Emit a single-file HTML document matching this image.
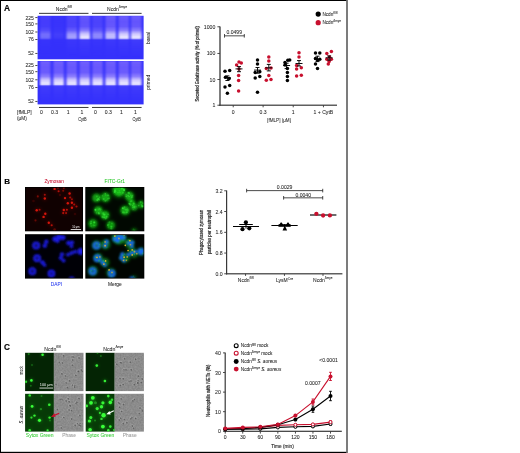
<!DOCTYPE html><html><head><meta charset="utf-8"><style>html,body{margin:0;padding:0;background:#fff;overflow:hidden}svg{display:block;will-change:transform}</style></head><body><svg width="520" height="453" viewBox="0 0 520 453" font-family='"Liberation Sans", sans-serif'>
<defs>
<filter id="blurL" x="-50%" y="-20%" width="200%" height="140%"><feGaussianBlur stdDeviation="0.85 0.55"/></filter>
<filter id="b03" x="-50%" y="-50%" width="200%" height="200%"><feGaussianBlur stdDeviation="0.35"/></filter>
<filter id="b05" x="-50%" y="-50%" width="200%" height="200%"><feGaussianBlur stdDeviation="0.5"/></filter>
<filter id="b07" x="-50%" y="-50%" width="200%" height="200%"><feGaussianBlur stdDeviation="0.7"/></filter>
<filter id="b10" x="-50%" y="-50%" width="200%" height="200%"><feGaussianBlur stdDeviation="1.0"/></filter>
<filter id="b15" x="-50%" y="-50%" width="200%" height="200%"><feGaussianBlur stdDeviation="1.5"/></filter>
<filter id="noise" x="0" y="0" width="100%" height="100%" color-interpolation-filters="sRGB"><feTurbulence type="fractalNoise" baseFrequency="0.6" numOctaves="2" seed="5"/><feColorMatrix type="matrix" values="1.8 0 0 0 -0.35  1.8 0 0 0 -0.35  1.8 0 0 0 -0.35  0 0 0 0 0.07"/><feComposite in2="SourceGraphic" operator="in"/></filter>
</defs>
<rect x="0.00" y="0.00" width="520.00" height="453.00" fill="#fff" />
<rect x="0.00" y="0.00" width="347.00" height="1.00" fill="#000" />
<rect x="0.00" y="0.00" width="1.00" height="453.00" fill="#000" />
<rect x="0.00" y="451.80" width="347.00" height="1.20" fill="#000" />
<rect x="346.10" y="0.00" width="1.80" height="453.00" fill="#6e6e6e" />
<text x="4.1" y="11.0" font-size="8.4" text-anchor="start" fill="#000" font-weight="bold" stroke="#000" stroke-width="0.15">A</text>
<text x="4.2" y="183.7" font-size="8.0" text-anchor="start" fill="#000" font-weight="bold" stroke="#000" stroke-width="0.15">B</text>
<text x="4.0" y="349.6" font-size="8.2" text-anchor="start" fill="#000" font-weight="bold" stroke="#000" stroke-width="0.15">C</text>
<text x="64.0" y="10.5" font-size="5.0" text-anchor="middle" fill="#1c1c1c" stroke="#1c1c1c" stroke-width="0.05">Ncdn<tspan font-size="3.6" dy="-2.3">fl/fl</tspan></text>
<text x="117.0" y="10.5" font-size="5.0" text-anchor="middle" fill="#1c1c1c" stroke="#1c1c1c" stroke-width="0.05">Ncdn<tspan font-size="3.2" dy="-2.3">Δmye</tspan></text>
<rect x="39.00" y="12.85" width="49.50" height="1.00" fill="#383838" />
<rect x="92.00" y="12.85" width="49.60" height="1.00" fill="#383838" />
<rect x="39.00" y="106.95" width="49.50" height="1.00" fill="#383838" />
<rect x="92.00" y="106.95" width="49.60" height="1.00" fill="#383838" />
<rect x="37.60" y="15.80" width="106.00" height="43.50" fill="#3430fb" />
<defs><linearGradient id="g1b" gradientUnits="userSpaceOnUse" x1="0" y1="15.8" x2="0" y2="59.3">
<stop offset="0.2437" stop-color="#f0eaff" stop-opacity="0.0"/>
<stop offset="0.3356" stop-color="#f0eaff" stop-opacity="0.25"/>
<stop offset="0.4046" stop-color="#f2ecff" stop-opacity="0.6"/>
<stop offset="0.4736" stop-color="#f6f2ff" stop-opacity="0.88"/>
<stop offset="0.5149" stop-color="#f6f2ff" stop-opacity="0.9"/>
<stop offset="0.5402" stop-color="#e0d8ff" stop-opacity="0.4"/>
<stop offset="0.5655" stop-color="#a8a0ff" stop-opacity="0.1"/>
<stop offset="0.7494" stop-color="#a8a0ff" stop-opacity="0.04"/>
<stop offset="1.0000" stop-color="#a8a0ff" stop-opacity="0.0"/>
</linearGradient>
<linearGradient id="g1s" gradientUnits="userSpaceOnUse" x1="0" y1="15.8" x2="0" y2="59.3">
<stop offset="0.0000" stop-color="#b898ff" stop-opacity="0.41800000000000004"/>
<stop offset="0.1379" stop-color="#b090ff" stop-opacity="0.38"/>
<stop offset="0.3356" stop-color="#b898ff" stop-opacity="0.399"/>
<stop offset="0.4276" stop-color="#d0c0ff" stop-opacity="0.5319999999999999"/>
<stop offset="0.5195" stop-color="#d8d0ff" stop-opacity="0"/>
<stop offset="1.0000" stop-color="#d8d0ff" stop-opacity="0"/>
</linearGradient></defs>
<g filter="url(#blurL)">
<rect x="40.00" y="16.10" width="10.60" height="43.20" fill="url(#g1s)" opacity="0.35"/>
<rect x="40.00" y="15.80" width="10.60" height="43.50" fill="url(#g1b)" opacity="0.3"/>
<rect x="53.30" y="16.10" width="10.60" height="43.20" fill="url(#g1s)" opacity="0.1"/>
<rect x="53.30" y="15.80" width="10.60" height="43.50" fill="url(#g1b)" opacity="0.05"/>
<rect x="66.50" y="16.10" width="10.60" height="43.20" fill="url(#g1s)" opacity="0.5"/>
<rect x="66.50" y="15.80" width="10.60" height="43.50" fill="url(#g1b)" opacity="0.6"/>
<rect x="79.40" y="16.10" width="10.60" height="43.20" fill="url(#g1s)" opacity="0.9"/>
<rect x="79.40" y="15.80" width="10.60" height="43.50" fill="url(#g1b)" opacity="1.0"/>
<rect x="92.20" y="16.10" width="10.60" height="43.20" fill="url(#g1s)" opacity="0.5"/>
<rect x="92.20" y="15.80" width="10.60" height="43.50" fill="url(#g1b)" opacity="0.45"/>
<rect x="105.40" y="16.10" width="10.60" height="43.20" fill="url(#g1s)" opacity="1.0"/>
<rect x="105.40" y="15.80" width="10.60" height="43.50" fill="url(#g1b)" opacity="0.75"/>
<rect x="118.50" y="16.10" width="10.60" height="43.20" fill="url(#g1s)" opacity="1.0"/>
<rect x="118.50" y="15.80" width="10.60" height="43.50" fill="url(#g1b)" opacity="1.0"/>
<rect x="130.90" y="16.10" width="10.60" height="43.20" fill="url(#g1s)" opacity="1.0"/>
<rect x="130.90" y="15.80" width="10.60" height="43.50" fill="url(#g1b)" opacity="1.0"/>
</g>
<rect x="37.60" y="61.00" width="106.00" height="43.40" fill="#3430fb" />
<defs><linearGradient id="g2b" gradientUnits="userSpaceOnUse" x1="0" y1="61.0" x2="0" y2="104.4">
<stop offset="0.2673" stop-color="#f0eaff" stop-opacity="0.0"/>
<stop offset="0.3594" stop-color="#f0eaff" stop-opacity="0.25"/>
<stop offset="0.4286" stop-color="#f2ecff" stop-opacity="0.6"/>
<stop offset="0.4977" stop-color="#f6f2ff" stop-opacity="0.88"/>
<stop offset="0.5392" stop-color="#f6f2ff" stop-opacity="0.9"/>
<stop offset="0.5645" stop-color="#e0d8ff" stop-opacity="0.4"/>
<stop offset="0.5899" stop-color="#a8a0ff" stop-opacity="0.1"/>
<stop offset="0.7742" stop-color="#a8a0ff" stop-opacity="0.04"/>
<stop offset="1.0000" stop-color="#a8a0ff" stop-opacity="0.0"/>
</linearGradient>
<linearGradient id="g2s" gradientUnits="userSpaceOnUse" x1="0" y1="61.0" x2="0" y2="104.4">
<stop offset="0.0000" stop-color="#b898ff" stop-opacity="0.462"/>
<stop offset="0.1382" stop-color="#b090ff" stop-opacity="0.42"/>
<stop offset="0.3594" stop-color="#b898ff" stop-opacity="0.441"/>
<stop offset="0.4516" stop-color="#d0c0ff" stop-opacity="0.588"/>
<stop offset="0.5438" stop-color="#d8d0ff" stop-opacity="0"/>
<stop offset="1.0000" stop-color="#d8d0ff" stop-opacity="0"/>
</linearGradient></defs>
<g filter="url(#blurL)">
<rect x="40.00" y="61.30" width="10.60" height="43.10" fill="url(#g2s)" opacity="1.0"/>
<rect x="40.00" y="61.00" width="10.60" height="43.40" fill="url(#g2b)" opacity="1.0"/>
<rect x="53.30" y="61.30" width="10.60" height="43.10" fill="url(#g2s)" opacity="1.0"/>
<rect x="53.30" y="61.00" width="10.60" height="43.40" fill="url(#g2b)" opacity="1.0"/>
<rect x="66.50" y="61.30" width="10.60" height="43.10" fill="url(#g2s)" opacity="1.0"/>
<rect x="66.50" y="61.00" width="10.60" height="43.40" fill="url(#g2b)" opacity="1.0"/>
<rect x="79.40" y="61.30" width="10.60" height="43.10" fill="url(#g2s)" opacity="1.0"/>
<rect x="79.40" y="61.00" width="10.60" height="43.40" fill="url(#g2b)" opacity="1.0"/>
<rect x="92.20" y="61.30" width="10.60" height="43.10" fill="url(#g2s)" opacity="1.0"/>
<rect x="92.20" y="61.00" width="10.60" height="43.40" fill="url(#g2b)" opacity="1.0"/>
<rect x="105.40" y="61.30" width="10.60" height="43.10" fill="url(#g2s)" opacity="1.0"/>
<rect x="105.40" y="61.00" width="10.60" height="43.40" fill="url(#g2b)" opacity="1.0"/>
<rect x="118.50" y="61.30" width="10.60" height="43.10" fill="url(#g2s)" opacity="1.0"/>
<rect x="118.50" y="61.00" width="10.60" height="43.40" fill="url(#g2b)" opacity="1.0"/>
<rect x="130.90" y="61.30" width="10.60" height="43.10" fill="url(#g2s)" opacity="1.0"/>
<rect x="130.90" y="61.00" width="10.60" height="43.40" fill="url(#g2b)" opacity="1.0"/>
</g>
<rect x="35.30" y="17.15" width="2.20" height="0.90" fill="#383838" />
<text x="33.8" y="19.5" font-size="5.0" text-anchor="end" fill="#1c1c1c" stroke="#1c1c1c" stroke-width="0.05">225</text>
<rect x="35.30" y="23.45" width="2.20" height="0.90" fill="#383838" />
<text x="33.8" y="25.799999999999997" font-size="5.0" text-anchor="end" fill="#1c1c1c" stroke="#1c1c1c" stroke-width="0.05">150</text>
<rect x="35.30" y="31.55" width="2.20" height="0.90" fill="#383838" />
<text x="33.8" y="33.9" font-size="5.0" text-anchor="end" fill="#1c1c1c" stroke="#1c1c1c" stroke-width="0.05">102</text>
<rect x="35.30" y="39.05" width="2.20" height="0.90" fill="#383838" />
<text x="33.8" y="41.4" font-size="5.0" text-anchor="end" fill="#1c1c1c" stroke="#1c1c1c" stroke-width="0.05">76</text>
<rect x="35.30" y="52.95" width="2.20" height="0.90" fill="#383838" />
<text x="33.8" y="55.3" font-size="5.0" text-anchor="end" fill="#1c1c1c" stroke="#1c1c1c" stroke-width="0.05">52</text>
<rect x="35.30" y="65.05" width="2.20" height="0.90" fill="#383838" />
<text x="33.8" y="67.4" font-size="5.0" text-anchor="end" fill="#1c1c1c" stroke="#1c1c1c" stroke-width="0.05">225</text>
<rect x="35.30" y="71.25" width="2.20" height="0.90" fill="#383838" />
<text x="33.8" y="73.60000000000001" font-size="5.0" text-anchor="end" fill="#1c1c1c" stroke="#1c1c1c" stroke-width="0.05">150</text>
<rect x="35.30" y="79.35" width="2.20" height="0.90" fill="#383838" />
<text x="33.8" y="81.7" font-size="5.0" text-anchor="end" fill="#1c1c1c" stroke="#1c1c1c" stroke-width="0.05">102</text>
<rect x="35.30" y="87.05" width="2.20" height="0.90" fill="#383838" />
<text x="33.8" y="89.4" font-size="5.0" text-anchor="end" fill="#1c1c1c" stroke="#1c1c1c" stroke-width="0.05">76</text>
<rect x="35.30" y="100.95" width="2.20" height="0.90" fill="#383838" />
<text x="33.8" y="103.30000000000001" font-size="5.0" text-anchor="end" fill="#1c1c1c" stroke="#1c1c1c" stroke-width="0.05">52</text>
<text transform="translate(149.9,38.0) rotate(-90)" font-size="5.0" text-anchor="middle" fill="#1c1c1c" stroke="#1c1c1c" stroke-width="0.05" textLength="12" lengthAdjust="spacingAndGlyphs">basal</text>
<text transform="translate(149.9,82.3) rotate(-90)" font-size="5.0" text-anchor="middle" fill="#1c1c1c" stroke="#1c1c1c" stroke-width="0.05" textLength="15" lengthAdjust="spacingAndGlyphs">primed</text>
<text x="17.0" y="113.6" font-size="5.1" text-anchor="start" fill="#1c1c1c" stroke="#1c1c1c" stroke-width="0.05" textLength="14.8" lengthAdjust="spacingAndGlyphs">[fMLP]</text>
<text x="17.0" y="120.4" font-size="5.1" text-anchor="start" fill="#1c1c1c" stroke="#1c1c1c" stroke-width="0.05" textLength="9.8" lengthAdjust="spacingAndGlyphs">(μM)</text>
<text x="41.5" y="113.8" font-size="5.1" text-anchor="middle" fill="#1c1c1c" stroke="#1c1c1c" stroke-width="0.05">0</text>
<text x="54.6" y="113.8" font-size="5.1" text-anchor="middle" fill="#1c1c1c" stroke="#1c1c1c" stroke-width="0.05">0.3</text>
<text x="68.2" y="113.8" font-size="5.1" text-anchor="middle" fill="#1c1c1c" stroke="#1c1c1c" stroke-width="0.05">1</text>
<text x="81.8" y="113.8" font-size="5.1" text-anchor="middle" fill="#1c1c1c" stroke="#1c1c1c" stroke-width="0.05">1</text>
<text x="95.5" y="113.8" font-size="5.1" text-anchor="middle" fill="#1c1c1c" stroke="#1c1c1c" stroke-width="0.05">0</text>
<text x="108.3" y="113.8" font-size="5.1" text-anchor="middle" fill="#1c1c1c" stroke="#1c1c1c" stroke-width="0.05">0.3</text>
<text x="121.4" y="113.8" font-size="5.1" text-anchor="middle" fill="#1c1c1c" stroke="#1c1c1c" stroke-width="0.05">1</text>
<text x="135.4" y="113.8" font-size="5.1" text-anchor="middle" fill="#1c1c1c" stroke="#1c1c1c" stroke-width="0.05">1</text>
<text x="82.5" y="120.9" font-size="5.1" text-anchor="middle" fill="#1c1c1c" stroke="#1c1c1c" stroke-width="0.05" textLength="8.4" lengthAdjust="spacingAndGlyphs">CytB</text>
<text x="136.6" y="120.9" font-size="5.1" text-anchor="middle" fill="#1c1c1c" stroke="#1c1c1c" stroke-width="0.05" textLength="8.4" lengthAdjust="spacingAndGlyphs">CytB</text>
<rect x="219.35" y="26.50" width="1.30" height="79.30" fill="#383838" />
<rect x="219.35" y="104.60" width="117.65" height="1.20" fill="#383838" />
<rect x="217.40" y="26.35" width="2.60" height="0.90" fill="#383838" />
<text x="215.4" y="28.8" font-size="5.2" text-anchor="end" fill="#1c1c1c" stroke="#1c1c1c" stroke-width="0.05">1000</text>
<rect x="217.40" y="52.95" width="2.60" height="0.90" fill="#383838" />
<text x="215.4" y="55.4" font-size="5.2" text-anchor="end" fill="#1c1c1c" stroke="#1c1c1c" stroke-width="0.05">100</text>
<rect x="217.40" y="79.05" width="2.60" height="0.90" fill="#383838" />
<text x="215.4" y="81.5" font-size="5.2" text-anchor="end" fill="#1c1c1c" stroke="#1c1c1c" stroke-width="0.05">10</text>
<rect x="217.40" y="104.75" width="2.60" height="0.90" fill="#383838" />
<text x="215.4" y="107.2" font-size="5.2" text-anchor="end" fill="#1c1c1c" stroke="#1c1c1c" stroke-width="0.05">1</text>
<rect x="232.75" y="105.20" width="0.90" height="2.10" fill="#383838" />
<text x="233.2" y="114.0" font-size="5.1" text-anchor="middle" fill="#1c1c1c" stroke="#1c1c1c" stroke-width="0.05">0</text>
<rect x="262.65" y="105.20" width="0.90" height="2.10" fill="#383838" />
<text x="263.1" y="114.0" font-size="5.1" text-anchor="middle" fill="#1c1c1c" stroke="#1c1c1c" stroke-width="0.05">0.3</text>
<rect x="292.75" y="105.20" width="0.90" height="2.10" fill="#383838" />
<text x="293.2" y="114.0" font-size="5.1" text-anchor="middle" fill="#1c1c1c" stroke="#1c1c1c" stroke-width="0.05">1</text>
<rect x="322.95" y="105.20" width="0.90" height="2.10" fill="#383838" />
<text x="323.4" y="114.0" font-size="5.1" text-anchor="middle" fill="#1c1c1c" stroke="#1c1c1c" stroke-width="0.05">1 + CytB</text>
<text x="279.2" y="121.8" font-size="5.1" text-anchor="middle" fill="#1c1c1c" stroke="#1c1c1c" stroke-width="0.05" textLength="24" lengthAdjust="spacingAndGlyphs">[fMLP] (μM)</text>
<text transform="translate(199.2,63.8) rotate(-90)" font-size="4.9" text-anchor="middle" fill="#1c1c1c" stroke="#1c1c1c" stroke-width="0.18" textLength="75.5" lengthAdjust="spacingAndGlyphs">Secreted Gelatinase activity (% of primed)</text>
<rect x="224.20" y="35.40" width="20.40" height="0.90" fill="#383838" />
<rect x="224.00" y="34.00" width="0.90" height="3.60" fill="#383838" />
<rect x="243.80" y="34.00" width="0.90" height="3.60" fill="#383838" />
<text x="234.2" y="34.2" font-size="5.1" text-anchor="middle" fill="#1c1c1c" stroke="#1c1c1c" stroke-width="0.05">0.0499</text>
<circle cx="225.0" cy="71.2" r="1.75" fill="#000"/>
<circle cx="229.7" cy="70.4" r="1.75" fill="#000"/>
<circle cx="225.5" cy="77.2" r="1.75" fill="#000"/>
<circle cx="229.2" cy="78.5" r="1.75" fill="#000"/>
<circle cx="225.0" cy="87.1" r="1.75" fill="#000"/>
<circle cx="229.7" cy="85.6" r="1.75" fill="#000"/>
<circle cx="227.4" cy="93.3" r="1.75" fill="#000"/>
<path d="M223.90,77.90H230.90M227.40,75.90V80.50M225.40,75.90H229.40M225.40,80.50H229.40" stroke="#000" stroke-width="0.95" fill="none"/>
<circle cx="236.6" cy="65.0" r="1.75" fill="#c8102e"/>
<circle cx="239.0" cy="62.0" r="1.75" fill="#c8102e"/>
<circle cx="241.3" cy="62.9" r="1.75" fill="#c8102e"/>
<circle cx="239.0" cy="69.0" r="1.75" fill="#c8102e"/>
<circle cx="238.6" cy="75.5" r="1.75" fill="#c8102e"/>
<circle cx="238.6" cy="80.6" r="1.75" fill="#c8102e"/>
<circle cx="238.6" cy="91.0" r="1.75" fill="#c8102e"/>
<path d="M235.50,68.90H242.50M239.00,66.60V71.70M237.00,66.60H241.00M237.00,71.70H241.00" stroke="#000" stroke-width="0.95" fill="none"/>
<circle cx="257.5" cy="60.1" r="1.75" fill="#000"/>
<circle cx="257.5" cy="64.0" r="1.75" fill="#000"/>
<circle cx="255.2" cy="72.5" r="1.75" fill="#000"/>
<circle cx="259.8" cy="71.7" r="1.75" fill="#000"/>
<circle cx="255.2" cy="77.9" r="1.75" fill="#000"/>
<circle cx="259.8" cy="76.6" r="1.75" fill="#000"/>
<circle cx="257.5" cy="92.2" r="1.75" fill="#000"/>
<path d="M254.00,70.10H261.00M257.50,67.50V73.20M255.50,67.50H259.50M255.50,73.20H259.50" stroke="#000" stroke-width="0.95" fill="none"/>
<circle cx="268.8" cy="57.0" r="1.75" fill="#c8102e"/>
<circle cx="268.8" cy="60.9" r="1.75" fill="#c8102e"/>
<circle cx="266.3" cy="68.6" r="1.75" fill="#c8102e"/>
<circle cx="271.0" cy="68.1" r="1.75" fill="#c8102e"/>
<circle cx="268.8" cy="75.5" r="1.75" fill="#c8102e"/>
<circle cx="266.3" cy="80.2" r="1.75" fill="#c8102e"/>
<circle cx="271.0" cy="79.4" r="1.75" fill="#c8102e"/>
<path d="M265.30,67.80H272.30M268.80,64.40V70.90M266.80,64.40H270.80M266.80,70.90H270.80" stroke="#000" stroke-width="0.95" fill="none"/>
<circle cx="285.0" cy="62.4" r="1.75" fill="#000"/>
<circle cx="289.7" cy="60.1" r="1.75" fill="#000"/>
<circle cx="287.8" cy="60.3" r="1.75" fill="#000"/>
<circle cx="285.0" cy="65.0" r="1.75" fill="#000"/>
<circle cx="287.4" cy="68.6" r="1.75" fill="#000"/>
<circle cx="287.4" cy="72.5" r="1.75" fill="#000"/>
<circle cx="287.4" cy="76.6" r="1.75" fill="#000"/>
<circle cx="287.4" cy="80.5" r="1.75" fill="#000"/>
<path d="M283.10,65.50H290.10M286.60,63.20V68.60M284.60,63.20H288.60M284.60,68.60H288.60" stroke="#000" stroke-width="0.95" fill="none"/>
<circle cx="299.0" cy="52.8" r="1.75" fill="#c8102e"/>
<circle cx="299.0" cy="57.0" r="1.75" fill="#c8102e"/>
<circle cx="296.6" cy="65.5" r="1.75" fill="#c8102e"/>
<circle cx="301.3" cy="67.8" r="1.75" fill="#c8102e"/>
<circle cx="296.6" cy="69.0" r="1.75" fill="#c8102e"/>
<circle cx="296.6" cy="75.9" r="1.75" fill="#c8102e"/>
<circle cx="301.3" cy="75.2" r="1.75" fill="#c8102e"/>
<path d="M295.50,63.50H302.50M299.00,60.60V66.00M297.00,60.60H301.00M297.00,66.00H301.00" stroke="#000" stroke-width="0.95" fill="none"/>
<circle cx="315.5" cy="53.1" r="1.75" fill="#000"/>
<circle cx="319.8" cy="53.1" r="1.75" fill="#000"/>
<circle cx="315.5" cy="58.5" r="1.75" fill="#000"/>
<circle cx="319.8" cy="59.3" r="1.75" fill="#000"/>
<circle cx="317.5" cy="60.1" r="1.75" fill="#000"/>
<circle cx="315.5" cy="64.0" r="1.75" fill="#000"/>
<circle cx="317.5" cy="68.6" r="1.75" fill="#000"/>
<path d="M314.00,59.30H321.00M317.50,56.20V61.60M315.50,56.20H319.50M315.50,61.60H319.50" stroke="#000" stroke-width="0.95" fill="none"/>
<circle cx="331.4" cy="51.6" r="1.75" fill="#c8102e"/>
<circle cx="326.8" cy="53.6" r="1.75" fill="#c8102e"/>
<circle cx="329.5" cy="57.0" r="1.75" fill="#c8102e"/>
<circle cx="326.8" cy="59.3" r="1.75" fill="#c8102e"/>
<circle cx="331.4" cy="59.3" r="1.75" fill="#c8102e"/>
<circle cx="329.1" cy="61.6" r="1.75" fill="#c8102e"/>
<circle cx="328.3" cy="64.0" r="1.75" fill="#c8102e"/>
<path d="M325.60,57.80H332.60M329.10,55.90V60.10M327.10,55.90H331.10M327.10,60.10H331.10" stroke="#000" stroke-width="0.95" fill="none"/>
<circle cx="318.2" cy="14.1" r="2.6" fill="#000"/>
<circle cx="318.2" cy="22.7" r="2.6" fill="#c8102e"/>
<text x="322.4" y="15.8" font-size="4.7" text-anchor="start" fill="#1c1c1c" stroke="#1c1c1c" stroke-width="0.05">Ncdn<tspan font-size="3.3" dy="-2.3">fl/fl</tspan></text>
<text x="322.4" y="24.4" font-size="4.7" text-anchor="start" fill="#1c1c1c" stroke="#1c1c1c" stroke-width="0.05">Ncdn<tspan font-size="2.9" dy="-2.3">Δmye</tspan></text>
<text x="54.1" y="183.3" font-size="4.8" text-anchor="middle" fill="#c8102e" stroke="#c8102e" stroke-width="0.05" textLength="19.4" lengthAdjust="spacingAndGlyphs">Zymosan</text>
<text x="114.8" y="183.3" font-size="4.8" text-anchor="middle" fill="#28c828" stroke="#28c828" stroke-width="0.05" textLength="20.4" lengthAdjust="spacingAndGlyphs">FITC-Gr1</text>
<text x="56.4" y="286.2" font-size="4.9" text-anchor="middle" fill="#2438f0" stroke="#2438f0" stroke-width="0.05" textLength="11.2" lengthAdjust="spacingAndGlyphs">DAPI</text>
<text x="114.8" y="286.2" font-size="4.9" text-anchor="middle" fill="#1c1c1c" stroke="#1c1c1c" stroke-width="0.05" textLength="13.8" lengthAdjust="spacingAndGlyphs">Merge</text>
<defs>
<clipPath id="cz"><rect x="25.8" y="187.8" width="56.400000000000006" height="42.69999999999999"/></clipPath>
<clipPath id="cf"><rect x="86.1" y="187.8" width="57.400000000000006" height="42.69999999999999"/></clipPath>
<clipPath id="cd"><rect x="25.8" y="235.0" width="56.400000000000006" height="42.80000000000001"/></clipPath>
<clipPath id="cm"><rect x="86.1" y="235.0" width="57.400000000000006" height="42.80000000000001"/></clipPath>
</defs>
<rect x="25.00" y="187.00" width="58.00" height="44.30" fill="#000" />
<rect x="25.80" y="187.80" width="56.40" height="42.70" fill="#100101" />
<g clip-path="url(#cz)">
<g filter="url(#b15)">
<circle cx="54.6" cy="188.9" r="2.0" fill="#c01008" fill-opacity="0.28"/>
<circle cx="58.6" cy="191.2" r="2.0" fill="#c01008" fill-opacity="0.22"/>
<circle cx="58" cy="187.7" r="2.0" fill="#c01008" fill-opacity="0.14"/>
<circle cx="63.8" cy="187.7" r="2.0" fill="#c01008" fill-opacity="0.20"/>
<circle cx="63.2" cy="190.8" r="2.0" fill="#c01008" fill-opacity="0.14"/>
<circle cx="69.6" cy="193.5" r="2.0" fill="#c01008" fill-opacity="0.28"/>
<circle cx="37.8" cy="196.4" r="2.0" fill="#c01008" fill-opacity="0.14"/>
<circle cx="44.8" cy="194.7" r="2.0" fill="#c01008" fill-opacity="0.20"/>
<circle cx="44.8" cy="198.5" r="2.0" fill="#c01008" fill-opacity="0.28"/>
<circle cx="65" cy="198.1" r="2.0" fill="#c01008" fill-opacity="0.28"/>
<circle cx="70.2" cy="197.5" r="2.0" fill="#c01008" fill-opacity="0.20"/>
<circle cx="71.9" cy="199.3" r="2.0" fill="#c01008" fill-opacity="0.17"/>
<circle cx="67.8" cy="203.3" r="2.0" fill="#c01008" fill-opacity="0.28"/>
<circle cx="71.9" cy="202.7" r="2.0" fill="#c01008" fill-opacity="0.28"/>
<circle cx="74.2" cy="204.5" r="2.0" fill="#c01008" fill-opacity="0.20"/>
<circle cx="76.5" cy="206.5" r="2.0" fill="#c01008" fill-opacity="0.20"/>
<circle cx="71.9" cy="207.7" r="2.0" fill="#c01008" fill-opacity="0.28"/>
<circle cx="36.7" cy="210.2" r="2.0" fill="#c01008" fill-opacity="0.28"/>
<circle cx="39.6" cy="209.7" r="2.0" fill="#c01008" fill-opacity="0.20"/>
<circle cx="63.8" cy="210" r="2.0" fill="#c01008" fill-opacity="0.28"/>
<circle cx="66.9" cy="209.7" r="2.0" fill="#c01008" fill-opacity="0.22"/>
<circle cx="63.2" cy="213.1" r="2.0" fill="#c01008" fill-opacity="0.22"/>
<circle cx="66.1" cy="213.1" r="2.0" fill="#c01008" fill-opacity="0.20"/>
<circle cx="45.3" cy="213.7" r="2.0" fill="#c01008" fill-opacity="0.28"/>
<circle cx="43.6" cy="216.9" r="2.0" fill="#c01008" fill-opacity="0.28"/>
<circle cx="35.5" cy="220.4" r="2.0" fill="#c01008" fill-opacity="0.11"/>
<circle cx="48.8" cy="222.7" r="2.0" fill="#c01008" fill-opacity="0.28"/>
<circle cx="51.7" cy="225.2" r="2.0" fill="#c01008" fill-opacity="0.22"/>
<circle cx="54.6" cy="229.5" r="2.0" fill="#c01008" fill-opacity="0.10"/>
<circle cx="33.5" cy="201" r="2.0" fill="#c01008" fill-opacity="0.04"/>
<circle cx="60" cy="195" r="2.0" fill="#c01008" fill-opacity="0.06"/>
<circle cx="75" cy="214" r="2.0" fill="#c01008" fill-opacity="0.04"/>
</g><g>
<circle cx="54.6" cy="188.9" r="1.2" fill="#e8180c" fill-opacity="0.90"/>
<circle cx="58.6" cy="191.2" r="1.05" fill="#e8180c" fill-opacity="0.72"/>
<circle cx="58" cy="187.7" r="1.05" fill="#e8180c" fill-opacity="0.45"/>
<circle cx="63.8" cy="187.7" r="1.05" fill="#e8180c" fill-opacity="0.63"/>
<circle cx="63.2" cy="190.8" r="1.05" fill="#e8180c" fill-opacity="0.45"/>
<circle cx="69.6" cy="193.5" r="1.2" fill="#e8180c" fill-opacity="0.90"/>
<circle cx="37.8" cy="196.4" r="1.05" fill="#e8180c" fill-opacity="0.45"/>
<circle cx="44.8" cy="194.7" r="1.05" fill="#e8180c" fill-opacity="0.63"/>
<circle cx="44.8" cy="198.5" r="1.2" fill="#e8180c" fill-opacity="0.90"/>
<circle cx="65" cy="198.1" r="1.2" fill="#e8180c" fill-opacity="0.90"/>
<circle cx="70.2" cy="197.5" r="1.05" fill="#e8180c" fill-opacity="0.63"/>
<circle cx="71.9" cy="199.3" r="1.05" fill="#e8180c" fill-opacity="0.54"/>
<circle cx="67.8" cy="203.3" r="1.2" fill="#e8180c" fill-opacity="0.90"/>
<circle cx="71.9" cy="202.7" r="1.2" fill="#e8180c" fill-opacity="0.90"/>
<circle cx="74.2" cy="204.5" r="1.05" fill="#e8180c" fill-opacity="0.63"/>
<circle cx="76.5" cy="206.5" r="1.05" fill="#e8180c" fill-opacity="0.63"/>
<circle cx="71.9" cy="207.7" r="1.2" fill="#e8180c" fill-opacity="0.90"/>
<circle cx="36.7" cy="210.2" r="1.2" fill="#e8180c" fill-opacity="0.90"/>
<circle cx="39.6" cy="209.7" r="1.05" fill="#e8180c" fill-opacity="0.63"/>
<circle cx="63.8" cy="210" r="1.2" fill="#e8180c" fill-opacity="0.90"/>
<circle cx="66.9" cy="209.7" r="1.05" fill="#e8180c" fill-opacity="0.72"/>
<circle cx="63.2" cy="213.1" r="1.05" fill="#e8180c" fill-opacity="0.72"/>
<circle cx="66.1" cy="213.1" r="1.05" fill="#e8180c" fill-opacity="0.63"/>
<circle cx="45.3" cy="213.7" r="1.2" fill="#e8180c" fill-opacity="0.90"/>
<circle cx="43.6" cy="216.9" r="1.2" fill="#e8180c" fill-opacity="0.90"/>
<circle cx="35.5" cy="220.4" r="1.05" fill="#e8180c" fill-opacity="0.36"/>
<circle cx="48.8" cy="222.7" r="1.2" fill="#e8180c" fill-opacity="0.90"/>
<circle cx="51.7" cy="225.2" r="1.05" fill="#e8180c" fill-opacity="0.72"/>
<circle cx="54.6" cy="229.5" r="1.3" fill="#e8180c" fill-opacity="0.32"/>
<circle cx="33.5" cy="201" r="1.3" fill="#e8180c" fill-opacity="0.14"/>
<circle cx="60" cy="195" r="1.3" fill="#e8180c" fill-opacity="0.18"/>
<circle cx="75" cy="214" r="1.3" fill="#e8180c" fill-opacity="0.14"/>
</g>
<text x="75.9" y="227.5" font-size="2.6" text-anchor="middle" fill="#fff">10 μm</text>
<rect x="70.70" y="229.10" width="10.40" height="0.80" fill="#fff" />
</g>
<rect x="85.30" y="187.00" width="59.00" height="44.30" fill="#000" />
<rect x="86.10" y="187.80" width="57.40" height="42.70" fill="#010801" />
<g clip-path="url(#cf)">
<g filter="url(#b15)">
<circle cx="119.0" cy="190.3" r="8.64" fill="#0c800c" fill-opacity="0.40"/>
<circle cx="96.5" cy="197.9" r="5.80" fill="#0c800c" fill-opacity="0.28"/>
<circle cx="105.5" cy="197.3" r="6.35" fill="#0c800c" fill-opacity="0.30"/>
<circle cx="129.3" cy="196.1" r="6.21" fill="#0c800c" fill-opacity="0.30"/>
<circle cx="131.7" cy="202.7" r="4.73" fill="#0c800c" fill-opacity="0.26"/>
<circle cx="141.5" cy="204.5" r="5.27" fill="#0c800c" fill-opacity="0.24"/>
<circle cx="134.1" cy="206.9" r="4.86" fill="#0c800c" fill-opacity="0.28"/>
<circle cx="125.1" cy="210.4" r="6.35" fill="#0c800c" fill-opacity="0.30"/>
<circle cx="98.3" cy="210.4" r="5.67" fill="#0c800c" fill-opacity="0.30"/>
<circle cx="104.9" cy="215.2" r="5.80" fill="#0c800c" fill-opacity="0.32"/>
<circle cx="92.9" cy="223.6" r="6.35" fill="#0c800c" fill-opacity="0.26"/>
<circle cx="110.8" cy="225.3" r="5.80" fill="#0c800c" fill-opacity="0.26"/>
<circle cx="134.1" cy="231" r="4.05" fill="#0c800c" fill-opacity="0.14"/>
</g>
<g filter="url(#b10)">
<circle cx="119.0" cy="190.3" r="6.08" fill="#16b816" fill-opacity="1.15"/>
<circle cx="96.5" cy="197.9" r="4.08" fill="#16b816" fill-opacity="0.80"/>
<circle cx="105.5" cy="197.3" r="4.46" fill="#16b816" fill-opacity="0.85"/>
<circle cx="129.3" cy="196.1" r="4.37" fill="#16b816" fill-opacity="0.85"/>
<circle cx="131.7" cy="202.7" r="3.32" fill="#16b816" fill-opacity="0.75"/>
<circle cx="141.5" cy="204.5" r="3.70" fill="#16b816" fill-opacity="0.70"/>
<circle cx="134.1" cy="206.9" r="3.42" fill="#16b816" fill-opacity="0.80"/>
<circle cx="125.1" cy="210.4" r="4.46" fill="#16b816" fill-opacity="0.85"/>
<circle cx="98.3" cy="210.4" r="3.99" fill="#16b816" fill-opacity="0.85"/>
<circle cx="104.9" cy="215.2" r="4.08" fill="#16b816" fill-opacity="0.90"/>
<circle cx="92.9" cy="223.6" r="4.46" fill="#16b816" fill-opacity="0.75"/>
<circle cx="110.8" cy="225.3" r="4.08" fill="#16b816" fill-opacity="0.75"/>
<circle cx="134.1" cy="231" r="2.85" fill="#16b816" fill-opacity="0.40"/>
</g><g>
<circle cx="115.3" cy="191.4" r="1.07" fill="#3cf03c" fill-opacity="0.51"/>
<circle cx="115.1" cy="190.1" r="0.77" fill="#3cf03c" fill-opacity="0.52"/>
<circle cx="115.9" cy="187.0" r="0.74" fill="#3cf03c" fill-opacity="0.45"/>
<circle cx="122.9" cy="192.8" r="0.98" fill="#3cf03c" fill-opacity="0.36"/>
<circle cx="124.0" cy="189.7" r="0.96" fill="#3cf03c" fill-opacity="0.56"/>
<circle cx="119.3" cy="190.8" r="0.91" fill="#3cf03c" fill-opacity="0.37"/>
<circle cx="119.9" cy="192.6" r="0.71" fill="#3cf03c" fill-opacity="0.51"/>
<circle cx="114.6" cy="192.0" r="0.91" fill="#3cf03c" fill-opacity="0.57"/>
<circle cx="114.8" cy="190.3" r="0.88" fill="#3cf03c" fill-opacity="0.44"/>
<circle cx="124.1" cy="190.2" r="1.04" fill="#3cf03c" fill-opacity="0.59"/>
<circle cx="118.0" cy="192.6" r="0.82" fill="#3cf03c" fill-opacity="0.37"/>
<circle cx="119.3" cy="187.1" r="1.04" fill="#3cf03c" fill-opacity="0.48"/>
<circle cx="123.5" cy="189.1" r="0.70" fill="#3cf03c" fill-opacity="0.42"/>
<circle cx="122.0" cy="188.4" r="1.09" fill="#3cf03c" fill-opacity="0.48"/>
<circle cx="98.9" cy="199.1" r="1.01" fill="#3cf03c" fill-opacity="0.30"/>
<circle cx="98.2" cy="198.9" r="1.09" fill="#3cf03c" fill-opacity="0.42"/>
<circle cx="97.8" cy="199.1" r="0.74" fill="#3cf03c" fill-opacity="0.25"/>
<circle cx="96.9" cy="196.5" r="0.92" fill="#3cf03c" fill-opacity="0.35"/>
<circle cx="97.6" cy="200.6" r="0.75" fill="#3cf03c" fill-opacity="0.39"/>
<circle cx="98.2" cy="199.4" r="0.79" fill="#3cf03c" fill-opacity="0.30"/>
<circle cx="99.5" cy="197.3" r="0.82" fill="#3cf03c" fill-opacity="0.45"/>
<circle cx="97.0" cy="200.0" r="1.04" fill="#3cf03c" fill-opacity="0.39"/>
<circle cx="99.3" cy="199.9" r="0.79" fill="#3cf03c" fill-opacity="0.30"/>
<circle cx="105.8" cy="195.2" r="0.82" fill="#3cf03c" fill-opacity="0.27"/>
<circle cx="107.9" cy="198.8" r="0.80" fill="#3cf03c" fill-opacity="0.41"/>
<circle cx="103.7" cy="199.1" r="1.08" fill="#3cf03c" fill-opacity="0.38"/>
<circle cx="102.4" cy="195.7" r="0.77" fill="#3cf03c" fill-opacity="0.29"/>
<circle cx="108.4" cy="195.4" r="0.80" fill="#3cf03c" fill-opacity="0.30"/>
<circle cx="105.3" cy="193.7" r="0.78" fill="#3cf03c" fill-opacity="0.50"/>
<circle cx="107.7" cy="195.3" r="0.87" fill="#3cf03c" fill-opacity="0.28"/>
<circle cx="109.1" cy="198.2" r="0.80" fill="#3cf03c" fill-opacity="0.43"/>
<circle cx="105.4" cy="200.7" r="0.94" fill="#3cf03c" fill-opacity="0.33"/>
<circle cx="106.9" cy="200.1" r="0.73" fill="#3cf03c" fill-opacity="0.31"/>
<circle cx="126.1" cy="194.9" r="0.95" fill="#3cf03c" fill-opacity="0.33"/>
<circle cx="130.7" cy="195.3" r="0.71" fill="#3cf03c" fill-opacity="0.32"/>
<circle cx="128.4" cy="196.4" r="0.77" fill="#3cf03c" fill-opacity="0.35"/>
<circle cx="128.1" cy="195.5" r="0.84" fill="#3cf03c" fill-opacity="0.48"/>
<circle cx="132.3" cy="195.7" r="0.98" fill="#3cf03c" fill-opacity="0.40"/>
<circle cx="129.7" cy="196.6" r="0.71" fill="#3cf03c" fill-opacity="0.49"/>
<circle cx="128.2" cy="192.7" r="0.71" fill="#3cf03c" fill-opacity="0.42"/>
<circle cx="126.2" cy="196.5" r="0.83" fill="#3cf03c" fill-opacity="0.51"/>
<circle cx="131.7" cy="197.3" r="0.99" fill="#3cf03c" fill-opacity="0.48"/>
<circle cx="129.0" cy="193.0" r="1.02" fill="#3cf03c" fill-opacity="0.49"/>
<circle cx="130.3" cy="204.6" r="1.06" fill="#3cf03c" fill-opacity="0.42"/>
<circle cx="129.5" cy="203.9" r="1.05" fill="#3cf03c" fill-opacity="0.35"/>
<circle cx="130.5" cy="201.5" r="0.93" fill="#3cf03c" fill-opacity="0.36"/>
<circle cx="133.7" cy="203.8" r="1.10" fill="#3cf03c" fill-opacity="0.42"/>
<circle cx="131.5" cy="201.0" r="0.99" fill="#3cf03c" fill-opacity="0.36"/>
<circle cx="129.3" cy="203.6" r="0.73" fill="#3cf03c" fill-opacity="0.39"/>
<circle cx="133.8" cy="203.1" r="0.89" fill="#3cf03c" fill-opacity="0.28"/>
<circle cx="140.8" cy="202.4" r="0.95" fill="#3cf03c" fill-opacity="0.40"/>
<circle cx="141.5" cy="204.8" r="0.82" fill="#3cf03c" fill-opacity="0.35"/>
<circle cx="141.9" cy="205.7" r="1.06" fill="#3cf03c" fill-opacity="0.35"/>
<circle cx="138.7" cy="205.6" r="0.83" fill="#3cf03c" fill-opacity="0.35"/>
<circle cx="142.2" cy="206.4" r="1.02" fill="#3cf03c" fill-opacity="0.40"/>
<circle cx="142.9" cy="203.2" r="0.93" fill="#3cf03c" fill-opacity="0.28"/>
<circle cx="142.9" cy="206.2" r="1.03" fill="#3cf03c" fill-opacity="0.39"/>
<circle cx="140.8" cy="201.5" r="0.81" fill="#3cf03c" fill-opacity="0.25"/>
<circle cx="132.7" cy="207.4" r="0.79" fill="#3cf03c" fill-opacity="0.34"/>
<circle cx="132.7" cy="205.5" r="0.83" fill="#3cf03c" fill-opacity="0.44"/>
<circle cx="136.0" cy="206.7" r="0.73" fill="#3cf03c" fill-opacity="0.25"/>
<circle cx="134.5" cy="206.5" r="0.98" fill="#3cf03c" fill-opacity="0.38"/>
<circle cx="133.2" cy="209.3" r="0.71" fill="#3cf03c" fill-opacity="0.27"/>
<circle cx="133.7" cy="207.0" r="1.03" fill="#3cf03c" fill-opacity="0.30"/>
<circle cx="134.5" cy="207.4" r="0.95" fill="#3cf03c" fill-opacity="0.35"/>
<circle cx="123.0" cy="208.2" r="1.02" fill="#3cf03c" fill-opacity="0.50"/>
<circle cx="124.4" cy="208.9" r="0.89" fill="#3cf03c" fill-opacity="0.30"/>
<circle cx="127.7" cy="210.6" r="0.99" fill="#3cf03c" fill-opacity="0.30"/>
<circle cx="124.8" cy="212.6" r="0.98" fill="#3cf03c" fill-opacity="0.39"/>
<circle cx="122.6" cy="208.2" r="0.86" fill="#3cf03c" fill-opacity="0.46"/>
<circle cx="126.0" cy="209.8" r="1.07" fill="#3cf03c" fill-opacity="0.44"/>
<circle cx="126.8" cy="212.2" r="0.95" fill="#3cf03c" fill-opacity="0.49"/>
<circle cx="123.1" cy="212.4" r="1.05" fill="#3cf03c" fill-opacity="0.46"/>
<circle cx="127.5" cy="209.5" r="0.96" fill="#3cf03c" fill-opacity="0.31"/>
<circle cx="124.5" cy="207.1" r="0.96" fill="#3cf03c" fill-opacity="0.44"/>
<circle cx="99.0" cy="213.5" r="1.09" fill="#3cf03c" fill-opacity="0.50"/>
<circle cx="95.4" cy="209.7" r="0.83" fill="#3cf03c" fill-opacity="0.49"/>
<circle cx="99.5" cy="208.8" r="0.73" fill="#3cf03c" fill-opacity="0.37"/>
<circle cx="95.5" cy="209.5" r="0.89" fill="#3cf03c" fill-opacity="0.26"/>
<circle cx="98.6" cy="209.6" r="1.02" fill="#3cf03c" fill-opacity="0.30"/>
<circle cx="96.8" cy="213.0" r="0.76" fill="#3cf03c" fill-opacity="0.29"/>
<circle cx="95.5" cy="210.1" r="1.04" fill="#3cf03c" fill-opacity="0.43"/>
<circle cx="100.5" cy="209.6" r="1.08" fill="#3cf03c" fill-opacity="0.28"/>
<circle cx="98.7" cy="212.8" r="0.82" fill="#3cf03c" fill-opacity="0.44"/>
<circle cx="103.3" cy="213.3" r="1.04" fill="#3cf03c" fill-opacity="0.42"/>
<circle cx="104.1" cy="217.2" r="1.04" fill="#3cf03c" fill-opacity="0.51"/>
<circle cx="105.7" cy="218.3" r="1.09" fill="#3cf03c" fill-opacity="0.41"/>
<circle cx="103.5" cy="214.5" r="0.91" fill="#3cf03c" fill-opacity="0.41"/>
<circle cx="104.4" cy="214.8" r="1.09" fill="#3cf03c" fill-opacity="0.41"/>
<circle cx="102.4" cy="217.0" r="0.93" fill="#3cf03c" fill-opacity="0.40"/>
<circle cx="104.6" cy="214.4" r="0.92" fill="#3cf03c" fill-opacity="0.38"/>
<circle cx="108.1" cy="214.3" r="0.81" fill="#3cf03c" fill-opacity="0.40"/>
<circle cx="106.5" cy="216.8" r="1.03" fill="#3cf03c" fill-opacity="0.51"/>
<circle cx="90.8" cy="223.9" r="0.78" fill="#3cf03c" fill-opacity="0.36"/>
<circle cx="94.1" cy="223.0" r="1.01" fill="#3cf03c" fill-opacity="0.23"/>
<circle cx="93.5" cy="225.3" r="0.97" fill="#3cf03c" fill-opacity="0.30"/>
<circle cx="91.1" cy="225.9" r="0.74" fill="#3cf03c" fill-opacity="0.39"/>
<circle cx="94.8" cy="225.5" r="0.80" fill="#3cf03c" fill-opacity="0.27"/>
<circle cx="90.5" cy="223.1" r="0.85" fill="#3cf03c" fill-opacity="0.32"/>
<circle cx="91.4" cy="223.3" r="0.78" fill="#3cf03c" fill-opacity="0.37"/>
<circle cx="91.1" cy="221.5" r="1.04" fill="#3cf03c" fill-opacity="0.36"/>
<circle cx="94.0" cy="222.2" r="1.00" fill="#3cf03c" fill-opacity="0.41"/>
<circle cx="94.6" cy="222.4" r="0.83" fill="#3cf03c" fill-opacity="0.43"/>
<circle cx="111.5" cy="228.7" r="1.06" fill="#3cf03c" fill-opacity="0.26"/>
<circle cx="111.0" cy="228.2" r="0.80" fill="#3cf03c" fill-opacity="0.25"/>
<circle cx="111.9" cy="223.4" r="1.02" fill="#3cf03c" fill-opacity="0.25"/>
<circle cx="108.5" cy="226.9" r="0.71" fill="#3cf03c" fill-opacity="0.27"/>
<circle cx="109.4" cy="222.3" r="1.09" fill="#3cf03c" fill-opacity="0.25"/>
<circle cx="107.8" cy="225.2" r="0.90" fill="#3cf03c" fill-opacity="0.38"/>
<circle cx="111.1" cy="226.1" r="0.74" fill="#3cf03c" fill-opacity="0.23"/>
<circle cx="108.5" cy="224.5" r="0.93" fill="#3cf03c" fill-opacity="0.26"/>
<circle cx="111.4" cy="226.7" r="1.04" fill="#3cf03c" fill-opacity="0.45"/>
<circle cx="134.8" cy="230.7" r="0.72" fill="#3cf03c" fill-opacity="0.23"/>
<circle cx="132.1" cy="231.5" r="0.83" fill="#3cf03c" fill-opacity="0.18"/>
<circle cx="132.5" cy="230.8" r="0.94" fill="#3cf03c" fill-opacity="0.12"/>
<circle cx="133.4" cy="228.9" r="0.77" fill="#3cf03c" fill-opacity="0.17"/>
<circle cx="134.0" cy="229.5" r="0.78" fill="#3cf03c" fill-opacity="0.14"/>
<circle cx="133.8" cy="231.0" r="1.06" fill="#3cf03c" fill-opacity="0.22"/>
</g></g>
<rect x="25.00" y="234.20" width="58.00" height="44.40" fill="#000" />
<rect x="25.80" y="235.00" width="56.40" height="42.80" fill="#000006" />
<g clip-path="url(#cd)"><g filter="url(#b10)">
<circle cx="36.20" cy="245.50" r="2.60" fill="none" stroke="#1a1ae0" stroke-opacity="1.0" stroke-width="2.8"/>
<circle cx="37.10" cy="258.20" r="2.50" fill="none" stroke="#1a1ae0" stroke-opacity="1.0" stroke-width="2.8"/>
<circle cx="32.30" cy="271.30" r="2.60" fill="none" stroke="#1a1ae0" stroke-opacity="1.0" stroke-width="2.8"/>
<circle cx="51.40" cy="273.50" r="2.50" fill="none" stroke="#1a1ae0" stroke-opacity="1.0" stroke-width="2.8"/>
<circle cx="46.30" cy="241.80" r="2.18" fill="#1a1ae0" fill-opacity="1.0"/>
<circle cx="44.80" cy="245.80" r="2.18" fill="#1a1ae0" fill-opacity="1.0"/>
<circle cx="55.00" cy="239.00" r="2.76" fill="#1a1ae0" fill-opacity="1.0"/>
<circle cx="59.00" cy="237.20" r="2.99" fill="#1a1ae0" fill-opacity="1.0"/>
<circle cx="63.00" cy="237.60" r="2.53" fill="#1a1ae0" fill-opacity="1.0"/>
<circle cx="57.50" cy="241.00" r="2.07" fill="#1a1ae0" fill-opacity="1.0"/>
<circle cx="68.50" cy="243.00" r="2.30" fill="#1a1ae0" fill-opacity="1.0"/>
<circle cx="72.00" cy="242.50" r="2.07" fill="#1a1ae0" fill-opacity="1.0"/>
<circle cx="71.50" cy="246.20" r="1.84" fill="#1a1ae0" fill-opacity="1.0"/>
<circle cx="80.80" cy="251.50" r="3.45" fill="#1a1ae0" fill-opacity="1.0"/>
<circle cx="68.00" cy="254.60" r="1.95" fill="#1a1ae0" fill-opacity="1.0"/>
<circle cx="71.50" cy="253.00" r="2.07" fill="#1a1ae0" fill-opacity="1.0"/>
<circle cx="75.00" cy="251.80" r="1.95" fill="#1a1ae0" fill-opacity="1.0"/>
<circle cx="62.00" cy="254.40" r="2.07" fill="#1a1ae0" fill-opacity="1.0"/>
<circle cx="60.80" cy="258.00" r="2.07" fill="#1a1ae0" fill-opacity="1.0"/>
<circle cx="63.60" cy="260.60" r="1.95" fill="#1a1ae0" fill-opacity="1.0"/>
<circle cx="42.50" cy="262.50" r="2.30" fill="#1a1ae0" fill-opacity="1.0"/>
<circle cx="44.60" cy="265.00" r="1.84" fill="#1a1ae0" fill-opacity="1.0"/>
<circle cx="71.70" cy="279.50" r="2.99" fill="#1a1ae0" fill-opacity="1.0"/>
</g></g>
<rect x="85.30" y="234.20" width="59.00" height="44.40" fill="#000" />
<rect x="86.10" y="235.00" width="57.40" height="42.80" fill="#010501" />
<g clip-path="url(#cm)">
<g filter="url(#b15)">
<circle cx="119.0" cy="237.5" r="6.72" fill="#109a1c" fill-opacity="0.92"/>
<circle cx="96.5" cy="245.1" r="4.51" fill="#109a1c" fill-opacity="0.64"/>
<circle cx="105.5" cy="244.5" r="4.94" fill="#109a1c" fill-opacity="0.68"/>
<circle cx="129.3" cy="243.29999999999998" r="4.83" fill="#109a1c" fill-opacity="0.68"/>
<circle cx="131.7" cy="249.89999999999998" r="3.68" fill="#109a1c" fill-opacity="0.60"/>
<circle cx="141.5" cy="251.7" r="4.09" fill="#109a1c" fill-opacity="0.56"/>
<circle cx="134.1" cy="254.1" r="3.78" fill="#109a1c" fill-opacity="0.64"/>
<circle cx="125.1" cy="257.6" r="4.94" fill="#109a1c" fill-opacity="0.68"/>
<circle cx="98.3" cy="257.6" r="4.41" fill="#109a1c" fill-opacity="0.68"/>
<circle cx="104.9" cy="262.4" r="4.51" fill="#109a1c" fill-opacity="0.72"/>
<circle cx="92.9" cy="270.79999999999995" r="4.94" fill="#109a1c" fill-opacity="0.60"/>
<circle cx="110.8" cy="272.5" r="4.51" fill="#109a1c" fill-opacity="0.60"/>
<circle cx="134.1" cy="278.2" r="3.15" fill="#109a1c" fill-opacity="0.32"/>
</g><g filter="url(#b10)">
<circle cx="96.50" cy="245.50" r="2.60" fill="none" stroke="#1a6aff" stroke-opacity="0.92" stroke-width="2.8"/>
<circle cx="97.40" cy="258.20" r="2.50" fill="none" stroke="#1a6aff" stroke-opacity="0.92" stroke-width="2.8"/>
<circle cx="92.60" cy="271.30" r="2.60" fill="none" stroke="#1a6aff" stroke-opacity="0.92" stroke-width="2.8"/>
<circle cx="111.70" cy="273.50" r="2.50" fill="none" stroke="#1a6aff" stroke-opacity="0.92" stroke-width="2.8"/>
<circle cx="106.60" cy="241.80" r="2.18" fill="#1a6aff" fill-opacity="0.92"/>
<circle cx="105.10" cy="245.80" r="2.18" fill="#1a6aff" fill-opacity="0.92"/>
<circle cx="115.30" cy="239.00" r="2.76" fill="#1a6aff" fill-opacity="0.92"/>
<circle cx="119.30" cy="237.20" r="2.99" fill="#1a6aff" fill-opacity="0.92"/>
<circle cx="123.30" cy="237.60" r="2.53" fill="#1a6aff" fill-opacity="0.92"/>
<circle cx="117.80" cy="241.00" r="2.07" fill="#1a6aff" fill-opacity="0.92"/>
<circle cx="128.80" cy="243.00" r="2.30" fill="#1a6aff" fill-opacity="0.92"/>
<circle cx="132.30" cy="242.50" r="2.07" fill="#1a6aff" fill-opacity="0.92"/>
<circle cx="131.80" cy="246.20" r="1.84" fill="#1a6aff" fill-opacity="0.92"/>
<circle cx="141.10" cy="251.50" r="3.45" fill="#1a6aff" fill-opacity="0.92"/>
<circle cx="128.30" cy="254.60" r="1.95" fill="#1a6aff" fill-opacity="0.92"/>
<circle cx="131.80" cy="253.00" r="2.07" fill="#1a6aff" fill-opacity="0.92"/>
<circle cx="135.30" cy="251.80" r="1.95" fill="#1a6aff" fill-opacity="0.92"/>
<circle cx="122.30" cy="254.40" r="2.07" fill="#1a6aff" fill-opacity="0.92"/>
<circle cx="121.10" cy="258.00" r="2.07" fill="#1a6aff" fill-opacity="0.92"/>
<circle cx="123.90" cy="260.60" r="1.95" fill="#1a6aff" fill-opacity="0.92"/>
<circle cx="102.80" cy="262.50" r="2.30" fill="#1a6aff" fill-opacity="0.92"/>
<circle cx="104.90" cy="265.00" r="1.84" fill="#1a6aff" fill-opacity="0.92"/>
<circle cx="132.00" cy="279.50" r="2.99" fill="#1a6aff" fill-opacity="0.92"/>
</g><g>
<circle cx="115.3" cy="238.6" r="0.86" fill="#30d830" fill-opacity="0.29"/>
<circle cx="122.9" cy="240.0" r="0.78" fill="#30d830" fill-opacity="0.21"/>
<circle cx="119.9" cy="239.8" r="0.57" fill="#30d830" fill-opacity="0.29"/>
<circle cx="124.1" cy="237.4" r="0.83" fill="#30d830" fill-opacity="0.34"/>
<circle cx="123.5" cy="236.3" r="0.56" fill="#30d830" fill-opacity="0.24"/>
<circle cx="98.9" cy="246.3" r="0.81" fill="#30d830" fill-opacity="0.25"/>
<circle cx="96.9" cy="243.7" r="0.74" fill="#30d830" fill-opacity="0.29"/>
<circle cx="99.5" cy="244.5" r="0.66" fill="#30d830" fill-opacity="0.38"/>
<circle cx="105.8" cy="242.4" r="0.65" fill="#30d830" fill-opacity="0.21"/>
<circle cx="102.4" cy="242.9" r="0.62" fill="#30d830" fill-opacity="0.23"/>
<circle cx="107.7" cy="242.5" r="0.69" fill="#30d830" fill-opacity="0.22"/>
<circle cx="106.9" cy="247.3" r="0.58" fill="#30d830" fill-opacity="0.25"/>
<circle cx="126.1" cy="242.1" r="0.76" fill="#30d830" fill-opacity="0.26"/>
<circle cx="128.1" cy="242.7" r="0.68" fill="#30d830" fill-opacity="0.38"/>
<circle cx="128.2" cy="239.9" r="0.57" fill="#30d830" fill-opacity="0.33"/>
<circle cx="129.0" cy="240.2" r="0.81" fill="#30d830" fill-opacity="0.38"/>
<circle cx="130.3" cy="251.8" r="0.85" fill="#30d830" fill-opacity="0.37"/>
<circle cx="133.7" cy="251.0" r="0.88" fill="#30d830" fill-opacity="0.38"/>
<circle cx="133.8" cy="250.3" r="0.71" fill="#30d830" fill-opacity="0.25"/>
<circle cx="140.8" cy="249.6" r="0.76" fill="#30d830" fill-opacity="0.38"/>
<circle cx="138.7" cy="252.8" r="0.66" fill="#30d830" fill-opacity="0.33"/>
<circle cx="142.9" cy="253.4" r="0.83" fill="#30d830" fill-opacity="0.37"/>
<circle cx="132.7" cy="254.6" r="0.63" fill="#30d830" fill-opacity="0.28"/>
<circle cx="134.5" cy="253.7" r="0.79" fill="#30d830" fill-opacity="0.31"/>
<circle cx="134.5" cy="254.6" r="0.76" fill="#30d830" fill-opacity="0.29"/>
<circle cx="123.0" cy="255.4" r="0.82" fill="#30d830" fill-opacity="0.39"/>
<circle cx="124.8" cy="259.8" r="0.78" fill="#30d830" fill-opacity="0.30"/>
<circle cx="126.8" cy="259.4" r="0.76" fill="#30d830" fill-opacity="0.38"/>
<circle cx="124.5" cy="254.3" r="0.77" fill="#30d830" fill-opacity="0.34"/>
<circle cx="99.0" cy="260.7" r="0.87" fill="#30d830" fill-opacity="0.40"/>
<circle cx="95.5" cy="256.7" r="0.72" fill="#30d830" fill-opacity="0.21"/>
<circle cx="95.5" cy="257.3" r="0.83" fill="#30d830" fill-opacity="0.34"/>
<circle cx="103.3" cy="260.5" r="0.83" fill="#30d830" fill-opacity="0.31"/>
<circle cx="103.5" cy="261.7" r="0.73" fill="#30d830" fill-opacity="0.30"/>
<circle cx="104.6" cy="261.6" r="0.73" fill="#30d830" fill-opacity="0.28"/>
<circle cx="90.8" cy="271.1" r="0.62" fill="#30d830" fill-opacity="0.32"/>
<circle cx="91.1" cy="273.1" r="0.59" fill="#30d830" fill-opacity="0.35"/>
<circle cx="91.4" cy="270.5" r="0.63" fill="#30d830" fill-opacity="0.33"/>
<circle cx="94.6" cy="269.6" r="0.66" fill="#30d830" fill-opacity="0.38"/>
<circle cx="111.5" cy="275.9" r="0.84" fill="#30d830" fill-opacity="0.23"/>
<circle cx="108.5" cy="274.1" r="0.57" fill="#30d830" fill-opacity="0.24"/>
<circle cx="111.1" cy="273.3" r="0.59" fill="#30d830" fill-opacity="0.21"/>
<circle cx="134.8" cy="277.9" r="0.58" fill="#30d830" fill-opacity="0.39"/>
<circle cx="133.4" cy="276.1" r="0.62" fill="#30d830" fill-opacity="0.29"/>
<circle cx="114.9" cy="236.1" r="0.85" fill="#f4b828" fill-opacity="0.90"/>
<circle cx="118.9" cy="238.4" r="0.85" fill="#f4b828" fill-opacity="0.72"/>
<circle cx="124.1" cy="234.9" r="0.85" fill="#f4b828" fill-opacity="0.63"/>
<circle cx="129.9" cy="240.7" r="0.85" fill="#f4b828" fill-opacity="0.90"/>
<circle cx="105.1" cy="241.9" r="0.85" fill="#f4b828" fill-opacity="0.63"/>
<circle cx="105.1" cy="245.7" r="0.85" fill="#f4b828" fill-opacity="0.90"/>
<circle cx="125.3" cy="245.3" r="0.85" fill="#f4b828" fill-opacity="0.90"/>
<circle cx="130.5" cy="244.7" r="0.85" fill="#f4b828" fill-opacity="0.63"/>
<circle cx="128.1" cy="250.5" r="0.85" fill="#f4b828" fill-opacity="0.90"/>
<circle cx="132.2" cy="249.9" r="0.85" fill="#f4b828" fill-opacity="0.90"/>
<circle cx="134.5" cy="251.7" r="0.85" fill="#f4b828" fill-opacity="0.63"/>
<circle cx="136.8" cy="253.7" r="0.85" fill="#f4b828" fill-opacity="0.63"/>
<circle cx="132.2" cy="254.9" r="0.85" fill="#f4b828" fill-opacity="0.90"/>
<circle cx="97.0" cy="257.4" r="0.85" fill="#f4b828" fill-opacity="0.90"/>
<circle cx="99.9" cy="256.9" r="0.85" fill="#f4b828" fill-opacity="0.63"/>
<circle cx="124.1" cy="257.2" r="0.85" fill="#f4b828" fill-opacity="0.90"/>
<circle cx="127.2" cy="256.9" r="0.85" fill="#f4b828" fill-opacity="0.72"/>
<circle cx="123.5" cy="260.3" r="0.85" fill="#f4b828" fill-opacity="0.72"/>
<circle cx="126.4" cy="260.3" r="0.85" fill="#f4b828" fill-opacity="0.63"/>
<circle cx="105.6" cy="260.9" r="0.85" fill="#f4b828" fill-opacity="0.90"/>
<circle cx="103.9" cy="264.1" r="0.85" fill="#f4b828" fill-opacity="0.90"/>
<circle cx="109.1" cy="269.9" r="0.85" fill="#f4b828" fill-opacity="0.90"/>
<circle cx="112.0" cy="272.4" r="0.85" fill="#f4b828" fill-opacity="0.72"/>
</g></g>
<rect x="226.00" y="190.50" width="1.20" height="83.90" fill="#383838" />
<rect x="226.00" y="273.20" width="116.40" height="1.20" fill="#383838" />
<rect x="224.20" y="190.35" width="2.40" height="0.90" fill="#383838" />
<text x="222.7" y="192.8" font-size="5.2" text-anchor="end" fill="#1c1c1c" stroke="#1c1c1c" stroke-width="0.05">3.2</text>
<rect x="224.20" y="211.10" width="2.40" height="0.90" fill="#383838" />
<text x="222.7" y="213.55" font-size="5.2" text-anchor="end" fill="#1c1c1c" stroke="#1c1c1c" stroke-width="0.05">2.4</text>
<rect x="224.20" y="231.85" width="2.40" height="0.90" fill="#383838" />
<text x="222.7" y="234.3" font-size="5.2" text-anchor="end" fill="#1c1c1c" stroke="#1c1c1c" stroke-width="0.05">1.6</text>
<rect x="224.20" y="252.60" width="2.40" height="0.90" fill="#383838" />
<text x="222.7" y="255.05" font-size="5.2" text-anchor="end" fill="#1c1c1c" stroke="#1c1c1c" stroke-width="0.05">0.8</text>
<rect x="224.20" y="273.35" width="2.40" height="0.90" fill="#383838" />
<text x="222.7" y="275.8" font-size="5.2" text-anchor="end" fill="#1c1c1c" stroke="#1c1c1c" stroke-width="0.05">0.0</text>
<rect x="245.15" y="273.80" width="0.90" height="2.10" fill="#383838" />
<rect x="283.95" y="273.80" width="0.90" height="2.10" fill="#383838" />
<rect x="322.55" y="273.80" width="0.90" height="2.10" fill="#383838" />
<text x="245.8" y="281.6" font-size="5.0" text-anchor="middle" fill="#1c1c1c" stroke="#1c1c1c" stroke-width="0.05">Ncdn<tspan font-size="3.4" dy="-2.3">fl/fl</tspan></text>
<text x="284.6" y="281.6" font-size="5.0" text-anchor="middle" fill="#1c1c1c" stroke="#1c1c1c" stroke-width="0.05">LysM<tspan font-size="3.4" dy="-1.9">Cre</tspan></text>
<text x="322.8" y="281.6" font-size="5.0" text-anchor="middle" fill="#1c1c1c" stroke="#1c1c1c" stroke-width="0.05">Ncdn<tspan font-size="3.0" dy="-2.3">Δmye</tspan></text>
<text transform="translate(202.9,232.4) rotate(-90)" font-size="5.0" text-anchor="middle" fill="#1c1c1c" stroke="#1c1c1c" stroke-width="0.18" textLength="45" lengthAdjust="spacingAndGlyphs">Phagocytosed zymosan</text>
<text transform="translate(210.6,232.1) rotate(-90)" font-size="5.0" text-anchor="middle" fill="#1c1c1c" stroke="#1c1c1c" stroke-width="0.18" textLength="44" lengthAdjust="spacingAndGlyphs">particles per neutrophil</text>
<rect x="246.60" y="190.20" width="76.40" height="0.90" fill="#383838" />
<rect x="246.20" y="188.80" width="0.90" height="3.60" fill="#383838" />
<rect x="322.30" y="188.80" width="0.90" height="3.60" fill="#383838" />
<text x="284.6" y="188.9" font-size="5.1" text-anchor="middle" fill="#1c1c1c" stroke="#1c1c1c" stroke-width="0.05">0.0029</text>
<rect x="283.40" y="197.40" width="39.60" height="0.90" fill="#383838" />
<rect x="283.20" y="196.00" width="0.90" height="3.60" fill="#383838" />
<rect x="322.30" y="196.00" width="0.90" height="3.60" fill="#383838" />
<text x="303.2" y="196.6" font-size="5.1" text-anchor="middle" fill="#1c1c1c" stroke="#1c1c1c" stroke-width="0.05">0.0040</text>
<path d="M233,226.5H259M246,224.5V228.6M239.2,224.5H252.8" stroke="#000" stroke-width="1.0" fill="none"/>
<circle cx="245.9" cy="222.3" r="2.1" fill="#000"/>
<circle cx="242.5" cy="229.2" r="2.1" fill="#000"/>
<circle cx="249.3" cy="228.3" r="2.1" fill="#000"/>
<path d="M271.4,225.5H297.7M284.6,224.2V227.6" stroke="#000" stroke-width="1.0" fill="none"/>
<rect x="278.60" y="224.20" width="12.00" height="2.40" fill="#000" />
<path d="M278.3,226.5 L284.09999999999997,226.5 L281.7,222.6 L280.7,222.6 Z" fill="#000"/>
<path d="M285.1,226.5 L290.9,226.5 L288.5,222.6 L287.5,222.6 Z" fill="#000"/>
<path d="M282.5,230.5 L287.1,230.5 L285.3,226.6 L284.3,226.6 Z" fill="#000"/>
<path d="M310,215.0H336.4" stroke="#000" stroke-width="1.15"/>
<circle cx="316.4" cy="213.8" r="2.15" fill="#c8102e"/>
<circle cx="323.1" cy="215.5" r="2.15" fill="#c8102e"/>
<circle cx="329.9" cy="215.4" r="2.15" fill="#c8102e"/>
<text x="52.5" y="350.6" font-size="5.2" text-anchor="middle" fill="#1c1c1c" stroke="#1c1c1c" stroke-width="0.05">Ncdn<tspan font-size="3.5" dy="-2.3">fl/fl</tspan></text>
<text x="113.3" y="350.6" font-size="5.2" text-anchor="middle" fill="#1c1c1c" stroke="#1c1c1c" stroke-width="0.05">Ncdn<tspan font-size="3.1" dy="-2.3">Δmye</tspan></text>
<text transform="translate(22.8,370.5) rotate(-90)" font-size="5.0" text-anchor="middle" fill="#1c1c1c" stroke="#1c1c1c" stroke-width="0.05" textLength="8.6" lengthAdjust="spacingAndGlyphs">mock</text>
<text transform="translate(22.8,414.5) rotate(-90)" font-size="5.0" text-anchor="middle" fill="#1c1c1c" font-style="italic" stroke="#1c1c1c" stroke-width="0.05" textLength="17.8" lengthAdjust="spacingAndGlyphs">S. aureus</text>
<text x="39.7" y="436.9" font-size="5.0" text-anchor="middle" fill="#38d038" stroke="#38d038" stroke-width="0.05" textLength="27.8" lengthAdjust="spacingAndGlyphs">Sytox Green</text>
<text x="69.10000000000001" y="436.9" font-size="5.0" text-anchor="middle" fill="#9a9a9a" stroke="#9a9a9a" stroke-width="0.05" textLength="13.8" lengthAdjust="spacingAndGlyphs">Phase</text>
<text x="100.4" y="436.9" font-size="5.0" text-anchor="middle" fill="#38d038" stroke="#38d038" stroke-width="0.05" textLength="27.8" lengthAdjust="spacingAndGlyphs">Sytox Green</text>
<text x="129.70000000000002" y="436.9" font-size="5.0" text-anchor="middle" fill="#9a9a9a" stroke="#9a9a9a" stroke-width="0.05" textLength="13.8" lengthAdjust="spacingAndGlyphs">Phase</text>
<defs>
<clipPath id="cg00"><rect x="25.1" y="352.8" width="28.799999999999997" height="38.30000000000001"/></clipPath>
<clipPath id="cp00"><rect x="53.9" y="352.8" width="29.6" height="38.30000000000001"/></clipPath>
<clipPath id="cg01"><rect x="25.1" y="393.8" width="28.799999999999997" height="37.80000000000001"/></clipPath>
<clipPath id="cp01"><rect x="53.9" y="393.8" width="29.6" height="37.80000000000001"/></clipPath>
<clipPath id="cg10"><rect x="85.7" y="352.8" width="29.0" height="38.30000000000001"/></clipPath>
<clipPath id="cp10"><rect x="114.7" y="352.8" width="29.200000000000003" height="38.30000000000001"/></clipPath>
<clipPath id="cg11"><rect x="85.7" y="393.8" width="29.0" height="37.80000000000001"/></clipPath>
<clipPath id="cp11"><rect x="114.7" y="393.8" width="29.200000000000003" height="37.80000000000001"/></clipPath>
</defs>
<rect x="25.10" y="352.80" width="28.80" height="38.30" fill="#042404" />
<g clip-path="url(#cg00)"><g filter="url(#b15)">
<circle cx="28.7" cy="354.1" r="1.54" fill="#20c020" fill-opacity="0.16"/>
<circle cx="42.6" cy="354.8" r="1.82" fill="#20c020" fill-opacity="0.45"/>
<circle cx="31.4" cy="380.4" r="1.82" fill="#20c020" fill-opacity="0.45"/>
<circle cx="26" cy="381.7" r="1.68" fill="#20c020" fill-opacity="0.36"/>
<circle cx="32" cy="365" r="1.40" fill="#20c020" fill-opacity="0.11"/>
<circle cx="30.8" cy="385.8" r="1.40" fill="#20c020" fill-opacity="0.14"/>
</g><g>
<circle cx="28.7" cy="354.1" r="1.1" fill="#38ff38" fill-opacity="0.35"/>
<circle cx="42.6" cy="354.8" r="1.3" fill="#38ff38" fill-opacity="1"/>
<circle cx="31.4" cy="380.4" r="1.3" fill="#38ff38" fill-opacity="1"/>
<circle cx="26" cy="381.7" r="1.2" fill="#38ff38" fill-opacity="0.8"/>
<circle cx="32" cy="365" r="1" fill="#38ff38" fill-opacity="0.25"/>
<circle cx="30.8" cy="385.8" r="1" fill="#38ff38" fill-opacity="0.3"/>
</g></g>
<rect x="53.90" y="352.80" width="29.60" height="38.30" fill="#8b8b8b" />
<g clip-path="url(#cp00)">
<rect x="53.90" y="352.80" width="29.60" height="38.30" fill="#929292" filter="url(#noise)"/>
<circle cx="61.7" cy="373.5" r="1.2" fill="none" stroke="#c4c4c4" stroke-width="0.5" stroke-opacity="0.5"/>
<circle cx="62.0" cy="373.9" r="0.85" fill="#3c3c3c" fill-opacity="0.55"/>
<circle cx="65.2" cy="375.6" r="1.2" fill="none" stroke="#c4c4c4" stroke-width="0.5" stroke-opacity="0.5"/>
<circle cx="65.5" cy="376.0" r="0.85" fill="#3c3c3c" fill-opacity="0.55"/>
<circle cx="72.0" cy="356.6" r="1.2" fill="none" stroke="#c4c4c4" stroke-width="0.5" stroke-opacity="0.5"/>
<circle cx="72.3" cy="357.0" r="0.85" fill="#3c3c3c" fill-opacity="0.55"/>
<circle cx="55.8" cy="383.9" r="1.2" fill="none" stroke="#c4c4c4" stroke-width="0.5" stroke-opacity="0.5"/>
<circle cx="56.1" cy="384.3" r="0.85" fill="#3c3c3c" fill-opacity="0.55"/>
<circle cx="62.3" cy="362.6" r="1.2" fill="none" stroke="#c4c4c4" stroke-width="0.5" stroke-opacity="0.5"/>
<circle cx="62.6" cy="363.0" r="0.85" fill="#3c3c3c" fill-opacity="0.55"/>
<circle cx="81.9" cy="370.9" r="1.2" fill="none" stroke="#c4c4c4" stroke-width="0.5" stroke-opacity="0.5"/>
<circle cx="82.2" cy="371.3" r="0.85" fill="#3c3c3c" fill-opacity="0.55"/>
<circle cx="77.6" cy="371.1" r="1.2" fill="none" stroke="#c4c4c4" stroke-width="0.5" stroke-opacity="0.5"/>
<circle cx="77.9" cy="371.5" r="0.85" fill="#3c3c3c" fill-opacity="0.55"/>
<circle cx="72.4" cy="359.6" r="1.2" fill="none" stroke="#c4c4c4" stroke-width="0.5" stroke-opacity="0.5"/>
<circle cx="72.7" cy="360.0" r="0.85" fill="#3c3c3c" fill-opacity="0.55"/>
<circle cx="72.3" cy="384.9" r="1.2" fill="none" stroke="#c4c4c4" stroke-width="0.5" stroke-opacity="0.5"/>
<circle cx="72.6" cy="385.3" r="0.85" fill="#3c3c3c" fill-opacity="0.55"/>
<circle cx="69.3" cy="380.5" r="1.2" fill="none" stroke="#c4c4c4" stroke-width="0.5" stroke-opacity="0.5"/>
<circle cx="69.6" cy="380.9" r="0.85" fill="#3c3c3c" fill-opacity="0.55"/>
<circle cx="73.3" cy="356.6" r="1.2" fill="none" stroke="#c4c4c4" stroke-width="0.5" stroke-opacity="0.5"/>
<circle cx="73.6" cy="357.0" r="0.85" fill="#3c3c3c" fill-opacity="0.55"/>
<circle cx="75.6" cy="375.2" r="1.2" fill="none" stroke="#c4c4c4" stroke-width="0.5" stroke-opacity="0.5"/>
<circle cx="75.9" cy="375.6" r="0.85" fill="#3c3c3c" fill-opacity="0.55"/>
<circle cx="63.4" cy="355.4" r="1.2" fill="none" stroke="#c4c4c4" stroke-width="0.5" stroke-opacity="0.5"/>
<circle cx="63.7" cy="355.8" r="0.85" fill="#3c3c3c" fill-opacity="0.55"/>
<circle cx="78.4" cy="371.0" r="1.2" fill="none" stroke="#c4c4c4" stroke-width="0.5" stroke-opacity="0.5"/>
<circle cx="78.7" cy="371.4" r="0.85" fill="#3c3c3c" fill-opacity="0.55"/>
<circle cx="74.5" cy="385.3" r="1.2" fill="none" stroke="#c4c4c4" stroke-width="0.5" stroke-opacity="0.5"/>
<circle cx="74.8" cy="385.7" r="0.85" fill="#3c3c3c" fill-opacity="0.55"/>
<circle cx="74.4" cy="386.8" r="1.2" fill="none" stroke="#c4c4c4" stroke-width="0.5" stroke-opacity="0.5"/>
<circle cx="74.7" cy="387.2" r="0.85" fill="#3c3c3c" fill-opacity="0.55"/>
<circle cx="65.9" cy="382.6" r="1.2" fill="none" stroke="#c4c4c4" stroke-width="0.5" stroke-opacity="0.5"/>
<circle cx="66.2" cy="383.0" r="0.85" fill="#3c3c3c" fill-opacity="0.55"/>
<circle cx="67.2" cy="387.3" r="1.2" fill="none" stroke="#c4c4c4" stroke-width="0.5" stroke-opacity="0.5"/>
<circle cx="67.5" cy="387.7" r="0.85" fill="#3c3c3c" fill-opacity="0.55"/>
<circle cx="78.8" cy="357.7" r="1.2" fill="none" stroke="#c4c4c4" stroke-width="0.5" stroke-opacity="0.5"/>
<circle cx="79.1" cy="358.1" r="0.85" fill="#3c3c3c" fill-opacity="0.55"/>
<circle cx="59.0" cy="362.0" r="1.2" fill="none" stroke="#c4c4c4" stroke-width="0.5" stroke-opacity="0.5"/>
<circle cx="59.3" cy="362.4" r="0.85" fill="#3c3c3c" fill-opacity="0.55"/>
<circle cx="81.1" cy="369.7" r="1.2" fill="none" stroke="#c4c4c4" stroke-width="0.5" stroke-opacity="0.5"/>
<circle cx="81.4" cy="370.1" r="0.85" fill="#3c3c3c" fill-opacity="0.55"/>
<circle cx="72.1" cy="364.9" r="1.2" fill="none" stroke="#c4c4c4" stroke-width="0.5" stroke-opacity="0.5"/>
<circle cx="72.4" cy="365.3" r="0.85" fill="#3c3c3c" fill-opacity="0.55"/>
</g>
<rect x="25.10" y="393.80" width="28.80" height="37.80" fill="#073a07" />
<g clip-path="url(#cg01)"><g filter="url(#b15)">
<circle cx="29.7" cy="395.4" r="1.68" fill="#20c020" fill-opacity="0.41"/>
<circle cx="41.5" cy="396" r="1.40" fill="#20c020" fill-opacity="0.14"/>
<circle cx="32.1" cy="406.4" r="1.96" fill="#20c020" fill-opacity="0.45"/>
<circle cx="49.3" cy="404.8" r="1.82" fill="#20c020" fill-opacity="0.41"/>
<circle cx="40.9" cy="409.1" r="1.68" fill="#20c020" fill-opacity="0.16"/>
<circle cx="34.5" cy="415.6" r="1.68" fill="#20c020" fill-opacity="0.41"/>
<circle cx="31.4" cy="417.6" r="1.54" fill="#20c020" fill-opacity="0.36"/>
<circle cx="49.6" cy="417.6" r="1.68" fill="#20c020" fill-opacity="0.41"/>
<circle cx="39.5" cy="420.3" r="2.24" fill="#20c020" fill-opacity="0.45"/>
<circle cx="29.7" cy="430.4" r="1.82" fill="#20c020" fill-opacity="0.41"/>
<circle cx="47.6" cy="430.4" r="1.54" fill="#20c020" fill-opacity="0.41"/>
<circle cx="50" cy="420.5" r="1.40" fill="#20c020" fill-opacity="0.14"/>
<circle cx="52" cy="392.5" r="1.26" fill="#20c020" fill-opacity="0.18"/>
</g><g>
<circle cx="29.7" cy="395.4" r="1.2" fill="#38ff38" fill-opacity="0.9"/>
<circle cx="41.5" cy="396" r="1" fill="#38ff38" fill-opacity="0.3"/>
<circle cx="32.1" cy="406.4" r="1.4" fill="#38ff38" fill-opacity="1"/>
<circle cx="49.3" cy="404.8" r="1.3" fill="#38ff38" fill-opacity="0.9"/>
<circle cx="40.9" cy="409.1" r="1.2" fill="#38ff38" fill-opacity="0.35"/>
<circle cx="34.5" cy="415.6" r="1.2" fill="#38ff38" fill-opacity="0.9"/>
<circle cx="31.4" cy="417.6" r="1.1" fill="#38ff38" fill-opacity="0.8"/>
<circle cx="49.6" cy="417.6" r="1.2" fill="#38ff38" fill-opacity="0.9"/>
<circle cx="39.5" cy="420.3" r="1.6" fill="#38ff38" fill-opacity="1"/>
<circle cx="29.7" cy="430.4" r="1.3" fill="#38ff38" fill-opacity="0.9"/>
<circle cx="47.6" cy="430.4" r="1.1" fill="#38ff38" fill-opacity="0.9"/>
<circle cx="50" cy="420.5" r="1" fill="#38ff38" fill-opacity="0.3"/>
<circle cx="52" cy="392.5" r="0.9" fill="#38ff38" fill-opacity="0.4"/>
</g></g>
<rect x="53.90" y="393.80" width="29.60" height="37.80" fill="#8b8b8b" />
<g clip-path="url(#cp01)">
<rect x="53.90" y="393.80" width="29.60" height="37.80" fill="#929292" filter="url(#noise)"/>
<circle cx="61.7" cy="398.9" r="1.2" fill="none" stroke="#c4c4c4" stroke-width="0.5" stroke-opacity="0.5"/>
<circle cx="62.0" cy="399.3" r="0.85" fill="#3c3c3c" fill-opacity="0.55"/>
<circle cx="65.9" cy="400.7" r="1.2" fill="none" stroke="#c4c4c4" stroke-width="0.5" stroke-opacity="0.5"/>
<circle cx="66.2" cy="401.1" r="0.85" fill="#3c3c3c" fill-opacity="0.55"/>
<circle cx="57.2" cy="409.3" r="1.2" fill="none" stroke="#c4c4c4" stroke-width="0.5" stroke-opacity="0.5"/>
<circle cx="57.5" cy="409.7" r="0.85" fill="#3c3c3c" fill-opacity="0.55"/>
<circle cx="79.8" cy="423.2" r="1.2" fill="none" stroke="#c4c4c4" stroke-width="0.5" stroke-opacity="0.5"/>
<circle cx="80.1" cy="423.6" r="0.85" fill="#3c3c3c" fill-opacity="0.55"/>
<circle cx="75.8" cy="403.0" r="1.2" fill="none" stroke="#c4c4c4" stroke-width="0.5" stroke-opacity="0.5"/>
<circle cx="76.1" cy="403.4" r="0.85" fill="#3c3c3c" fill-opacity="0.55"/>
<circle cx="69.7" cy="404.9" r="1.2" fill="none" stroke="#c4c4c4" stroke-width="0.5" stroke-opacity="0.5"/>
<circle cx="70.0" cy="405.3" r="0.85" fill="#3c3c3c" fill-opacity="0.55"/>
<circle cx="60.0" cy="399.0" r="1.2" fill="none" stroke="#c4c4c4" stroke-width="0.5" stroke-opacity="0.5"/>
<circle cx="60.3" cy="399.4" r="0.85" fill="#3c3c3c" fill-opacity="0.55"/>
<circle cx="61.1" cy="427.6" r="1.2" fill="none" stroke="#c4c4c4" stroke-width="0.5" stroke-opacity="0.5"/>
<circle cx="61.4" cy="428.0" r="0.85" fill="#3c3c3c" fill-opacity="0.55"/>
<circle cx="77.4" cy="423.4" r="1.2" fill="none" stroke="#c4c4c4" stroke-width="0.5" stroke-opacity="0.5"/>
<circle cx="77.7" cy="423.8" r="0.85" fill="#3c3c3c" fill-opacity="0.55"/>
<circle cx="76.7" cy="402.0" r="1.2" fill="none" stroke="#c4c4c4" stroke-width="0.5" stroke-opacity="0.5"/>
<circle cx="77.0" cy="402.4" r="0.85" fill="#3c3c3c" fill-opacity="0.55"/>
<circle cx="63.6" cy="417.1" r="1.2" fill="none" stroke="#c4c4c4" stroke-width="0.5" stroke-opacity="0.5"/>
<circle cx="63.9" cy="417.5" r="0.85" fill="#3c3c3c" fill-opacity="0.55"/>
<circle cx="74.9" cy="425.0" r="1.2" fill="none" stroke="#c4c4c4" stroke-width="0.5" stroke-opacity="0.5"/>
<circle cx="75.2" cy="425.4" r="0.85" fill="#3c3c3c" fill-opacity="0.55"/>
<circle cx="78.8" cy="398.3" r="1.2" fill="none" stroke="#c4c4c4" stroke-width="0.5" stroke-opacity="0.5"/>
<circle cx="79.1" cy="398.7" r="0.85" fill="#3c3c3c" fill-opacity="0.55"/>
<circle cx="71.5" cy="418.7" r="1.2" fill="none" stroke="#c4c4c4" stroke-width="0.5" stroke-opacity="0.5"/>
<circle cx="71.8" cy="419.1" r="0.85" fill="#3c3c3c" fill-opacity="0.55"/>
<circle cx="68.9" cy="401.5" r="1.2" fill="none" stroke="#c4c4c4" stroke-width="0.5" stroke-opacity="0.5"/>
<circle cx="69.2" cy="401.9" r="0.85" fill="#3c3c3c" fill-opacity="0.55"/>
<circle cx="68.0" cy="398.4" r="1.2" fill="none" stroke="#c4c4c4" stroke-width="0.5" stroke-opacity="0.5"/>
<circle cx="68.3" cy="398.8" r="0.85" fill="#3c3c3c" fill-opacity="0.55"/>
<circle cx="80.3" cy="425.4" r="1.2" fill="none" stroke="#c4c4c4" stroke-width="0.5" stroke-opacity="0.5"/>
<circle cx="80.6" cy="425.8" r="0.85" fill="#3c3c3c" fill-opacity="0.55"/>
<circle cx="70.0" cy="405.7" r="1.2" fill="none" stroke="#c4c4c4" stroke-width="0.5" stroke-opacity="0.5"/>
<circle cx="70.3" cy="406.1" r="0.85" fill="#3c3c3c" fill-opacity="0.55"/>
<circle cx="79.6" cy="415.2" r="1.2" fill="none" stroke="#c4c4c4" stroke-width="0.5" stroke-opacity="0.5"/>
<circle cx="79.9" cy="415.6" r="0.85" fill="#3c3c3c" fill-opacity="0.55"/>
<circle cx="78.9" cy="424.8" r="1.2" fill="none" stroke="#c4c4c4" stroke-width="0.5" stroke-opacity="0.5"/>
<circle cx="79.2" cy="425.2" r="0.85" fill="#3c3c3c" fill-opacity="0.55"/>
<circle cx="68.9" cy="409.7" r="1.2" fill="none" stroke="#c4c4c4" stroke-width="0.5" stroke-opacity="0.5"/>
<circle cx="69.2" cy="410.1" r="0.85" fill="#3c3c3c" fill-opacity="0.55"/>
<circle cx="71.3" cy="410.3" r="1.2" fill="none" stroke="#c4c4c4" stroke-width="0.5" stroke-opacity="0.5"/>
<circle cx="71.6" cy="410.7" r="0.85" fill="#3c3c3c" fill-opacity="0.55"/>
</g>
<rect x="85.70" y="352.80" width="29.00" height="38.30" fill="#042404" />
<g clip-path="url(#cg10)"><g filter="url(#b15)">
<circle cx="96.8" cy="365.6" r="1.82" fill="#20c020" fill-opacity="0.41"/>
<circle cx="104.9" cy="381" r="1.82" fill="#20c020" fill-opacity="0.41"/>
<circle cx="100.9" cy="355.9" r="1.40" fill="#20c020" fill-opacity="0.14"/>
<circle cx="97.5" cy="353" r="1.40" fill="#20c020" fill-opacity="0.16"/>
</g><g>
<circle cx="96.8" cy="365.6" r="1.3" fill="#38ff38" fill-opacity="0.9"/>
<circle cx="104.9" cy="381" r="1.3" fill="#38ff38" fill-opacity="0.9"/>
<circle cx="100.9" cy="355.9" r="1" fill="#38ff38" fill-opacity="0.3"/>
<circle cx="97.5" cy="353" r="1" fill="#38ff38" fill-opacity="0.35"/>
</g></g>
<rect x="114.70" y="352.80" width="29.20" height="38.30" fill="#8b8b8b" />
<g clip-path="url(#cp10)">
<rect x="114.70" y="352.80" width="29.20" height="38.30" fill="#929292" filter="url(#noise)"/>
<circle cx="123.0" cy="378.5" r="1.2" fill="none" stroke="#c4c4c4" stroke-width="0.5" stroke-opacity="0.5"/>
<circle cx="123.3" cy="378.9" r="0.85" fill="#3c3c3c" fill-opacity="0.55"/>
<circle cx="134.1" cy="384.3" r="1.2" fill="none" stroke="#c4c4c4" stroke-width="0.5" stroke-opacity="0.5"/>
<circle cx="134.4" cy="384.7" r="0.85" fill="#3c3c3c" fill-opacity="0.55"/>
<circle cx="121.1" cy="362.4" r="1.2" fill="none" stroke="#c4c4c4" stroke-width="0.5" stroke-opacity="0.5"/>
<circle cx="121.4" cy="362.8" r="0.85" fill="#3c3c3c" fill-opacity="0.55"/>
<circle cx="120.1" cy="362.2" r="1.2" fill="none" stroke="#c4c4c4" stroke-width="0.5" stroke-opacity="0.5"/>
<circle cx="120.4" cy="362.6" r="0.85" fill="#3c3c3c" fill-opacity="0.55"/>
<circle cx="135.4" cy="358.9" r="1.2" fill="none" stroke="#c4c4c4" stroke-width="0.5" stroke-opacity="0.5"/>
<circle cx="135.7" cy="359.3" r="0.85" fill="#3c3c3c" fill-opacity="0.55"/>
<circle cx="130.1" cy="361.9" r="1.2" fill="none" stroke="#c4c4c4" stroke-width="0.5" stroke-opacity="0.5"/>
<circle cx="130.4" cy="362.3" r="0.85" fill="#3c3c3c" fill-opacity="0.55"/>
<circle cx="123.9" cy="369.5" r="1.2" fill="none" stroke="#c4c4c4" stroke-width="0.5" stroke-opacity="0.5"/>
<circle cx="124.2" cy="369.9" r="0.85" fill="#3c3c3c" fill-opacity="0.55"/>
<circle cx="138.1" cy="375.8" r="1.2" fill="none" stroke="#c4c4c4" stroke-width="0.5" stroke-opacity="0.5"/>
<circle cx="138.4" cy="376.2" r="0.85" fill="#3c3c3c" fill-opacity="0.55"/>
<circle cx="116.6" cy="364.0" r="1.2" fill="none" stroke="#c4c4c4" stroke-width="0.5" stroke-opacity="0.5"/>
<circle cx="116.9" cy="364.4" r="0.85" fill="#3c3c3c" fill-opacity="0.55"/>
<circle cx="120.0" cy="385.1" r="1.2" fill="none" stroke="#c4c4c4" stroke-width="0.5" stroke-opacity="0.5"/>
<circle cx="120.3" cy="385.5" r="0.85" fill="#3c3c3c" fill-opacity="0.55"/>
<circle cx="137.4" cy="382.8" r="1.2" fill="none" stroke="#c4c4c4" stroke-width="0.5" stroke-opacity="0.5"/>
<circle cx="137.7" cy="383.2" r="0.85" fill="#3c3c3c" fill-opacity="0.55"/>
<circle cx="137.9" cy="380.6" r="1.2" fill="none" stroke="#c4c4c4" stroke-width="0.5" stroke-opacity="0.5"/>
<circle cx="138.2" cy="381.0" r="0.85" fill="#3c3c3c" fill-opacity="0.55"/>
<circle cx="141.1" cy="382.3" r="1.2" fill="none" stroke="#c4c4c4" stroke-width="0.5" stroke-opacity="0.5"/>
<circle cx="141.4" cy="382.7" r="0.85" fill="#3c3c3c" fill-opacity="0.55"/>
<circle cx="122.9" cy="384.3" r="1.2" fill="none" stroke="#c4c4c4" stroke-width="0.5" stroke-opacity="0.5"/>
<circle cx="123.2" cy="384.7" r="0.85" fill="#3c3c3c" fill-opacity="0.55"/>
<circle cx="129.0" cy="381.0" r="1.2" fill="none" stroke="#c4c4c4" stroke-width="0.5" stroke-opacity="0.5"/>
<circle cx="129.3" cy="381.4" r="0.85" fill="#3c3c3c" fill-opacity="0.55"/>
<circle cx="131.0" cy="369.5" r="1.2" fill="none" stroke="#c4c4c4" stroke-width="0.5" stroke-opacity="0.5"/>
<circle cx="131.3" cy="369.9" r="0.85" fill="#3c3c3c" fill-opacity="0.55"/>
<circle cx="125.7" cy="369.5" r="1.2" fill="none" stroke="#c4c4c4" stroke-width="0.5" stroke-opacity="0.5"/>
<circle cx="126.0" cy="369.9" r="0.85" fill="#3c3c3c" fill-opacity="0.55"/>
<circle cx="124.4" cy="358.4" r="1.2" fill="none" stroke="#c4c4c4" stroke-width="0.5" stroke-opacity="0.5"/>
<circle cx="124.7" cy="358.8" r="0.85" fill="#3c3c3c" fill-opacity="0.55"/>
<circle cx="137.7" cy="382.5" r="1.2" fill="none" stroke="#c4c4c4" stroke-width="0.5" stroke-opacity="0.5"/>
<circle cx="138.0" cy="382.9" r="0.85" fill="#3c3c3c" fill-opacity="0.55"/>
<circle cx="142.0" cy="378.7" r="1.2" fill="none" stroke="#c4c4c4" stroke-width="0.5" stroke-opacity="0.5"/>
<circle cx="142.3" cy="379.1" r="0.85" fill="#3c3c3c" fill-opacity="0.55"/>
<circle cx="130.7" cy="380.7" r="1.2" fill="none" stroke="#c4c4c4" stroke-width="0.5" stroke-opacity="0.5"/>
<circle cx="131.0" cy="381.1" r="0.85" fill="#3c3c3c" fill-opacity="0.55"/>
<circle cx="119.7" cy="378.2" r="1.2" fill="none" stroke="#c4c4c4" stroke-width="0.5" stroke-opacity="0.5"/>
<circle cx="120.0" cy="378.6" r="0.85" fill="#3c3c3c" fill-opacity="0.55"/>
</g>
<rect x="85.70" y="393.80" width="29.00" height="37.80" fill="#073a07" />
<g clip-path="url(#cg11)"><g filter="url(#b15)">
<circle cx="92.8" cy="397.8" r="2.66" fill="#20c020" fill-opacity="0.45"/>
<circle cx="108.3" cy="396.1" r="1.82" fill="#20c020" fill-opacity="0.41"/>
<circle cx="112" cy="399.7" r="1.68" fill="#20c020" fill-opacity="0.36"/>
<circle cx="91" cy="402.8" r="2.66" fill="#20c020" fill-opacity="0.45"/>
<circle cx="95.5" cy="402.8" r="2.10" fill="#20c020" fill-opacity="0.16"/>
<circle cx="102.9" cy="402.8" r="2.24" fill="#20c020" fill-opacity="0.43"/>
<circle cx="110.3" cy="402.4" r="2.52" fill="#20c020" fill-opacity="0.45"/>
<circle cx="86.7" cy="405.9" r="1.82" fill="#20c020" fill-opacity="0.41"/>
<circle cx="101.5" cy="406.8" r="2.38" fill="#20c020" fill-opacity="0.43"/>
<circle cx="97.2" cy="408.6" r="2.24" fill="#20c020" fill-opacity="0.41"/>
<circle cx="99.9" cy="412.9" r="1.54" fill="#20c020" fill-opacity="0.36"/>
<circle cx="103.6" cy="415.3" r="3.08" fill="#20c020" fill-opacity="0.45"/>
<circle cx="90.8" cy="417.6" r="2.10" fill="#20c020" fill-opacity="0.41"/>
<circle cx="89.4" cy="421" r="2.24" fill="#20c020" fill-opacity="0.43"/>
<circle cx="101.5" cy="418.9" r="1.68" fill="#20c020" fill-opacity="0.36"/>
<circle cx="102.9" cy="426.6" r="2.66" fill="#20c020" fill-opacity="0.45"/>
<circle cx="110.3" cy="426.6" r="1.82" fill="#20c020" fill-opacity="0.41"/>
<circle cx="90.1" cy="429.7" r="2.52" fill="#20c020" fill-opacity="0.45"/>
<circle cx="108.3" cy="430.4" r="1.82" fill="#20c020" fill-opacity="0.41"/>
<circle cx="95" cy="420.5" r="1.40" fill="#20c020" fill-opacity="0.16"/>
<circle cx="114" cy="430" r="1.54" fill="#20c020" fill-opacity="0.36"/>
</g><g>
<circle cx="92.8" cy="397.8" r="1.9" fill="#38ff38" fill-opacity="1"/>
<circle cx="108.3" cy="396.1" r="1.3" fill="#38ff38" fill-opacity="0.9"/>
<circle cx="112" cy="399.7" r="1.2" fill="#38ff38" fill-opacity="0.8"/>
<circle cx="91" cy="402.8" r="1.9" fill="#38ff38" fill-opacity="1"/>
<circle cx="95.5" cy="402.8" r="1.5" fill="#38ff38" fill-opacity="0.35"/>
<circle cx="102.9" cy="402.8" r="1.6" fill="#38ff38" fill-opacity="0.95"/>
<circle cx="110.3" cy="402.4" r="1.8" fill="#38ff38" fill-opacity="1"/>
<circle cx="86.7" cy="405.9" r="1.3" fill="#38ff38" fill-opacity="0.9"/>
<circle cx="101.5" cy="406.8" r="1.7" fill="#38ff38" fill-opacity="0.95"/>
<circle cx="97.2" cy="408.6" r="1.6" fill="#38ff38" fill-opacity="0.9"/>
<circle cx="99.9" cy="412.9" r="1.1" fill="#38ff38" fill-opacity="0.8"/>
<circle cx="103.6" cy="415.3" r="2.2" fill="#38ff38" fill-opacity="1"/>
<circle cx="90.8" cy="417.6" r="1.5" fill="#38ff38" fill-opacity="0.9"/>
<circle cx="89.4" cy="421" r="1.6" fill="#38ff38" fill-opacity="0.95"/>
<circle cx="101.5" cy="418.9" r="1.2" fill="#38ff38" fill-opacity="0.8"/>
<circle cx="102.9" cy="426.6" r="1.9" fill="#38ff38" fill-opacity="1"/>
<circle cx="110.3" cy="426.6" r="1.3" fill="#38ff38" fill-opacity="0.9"/>
<circle cx="90.1" cy="429.7" r="1.8" fill="#38ff38" fill-opacity="1"/>
<circle cx="108.3" cy="430.4" r="1.3" fill="#38ff38" fill-opacity="0.9"/>
<circle cx="95" cy="420.5" r="1" fill="#38ff38" fill-opacity="0.35"/>
<circle cx="114" cy="430" r="1.1" fill="#38ff38" fill-opacity="0.8"/>
</g></g>
<rect x="114.70" y="393.80" width="29.20" height="37.80" fill="#8b8b8b" />
<g clip-path="url(#cp11)">
<rect x="114.70" y="393.80" width="29.20" height="37.80" fill="#929292" filter="url(#noise)"/>
<circle cx="119.0" cy="419.7" r="1.2" fill="none" stroke="#c4c4c4" stroke-width="0.5" stroke-opacity="0.5"/>
<circle cx="119.3" cy="420.1" r="0.85" fill="#3c3c3c" fill-opacity="0.55"/>
<circle cx="133.3" cy="428.0" r="1.2" fill="none" stroke="#c4c4c4" stroke-width="0.5" stroke-opacity="0.5"/>
<circle cx="133.6" cy="428.4" r="0.85" fill="#3c3c3c" fill-opacity="0.55"/>
<circle cx="123.3" cy="404.2" r="1.2" fill="none" stroke="#c4c4c4" stroke-width="0.5" stroke-opacity="0.5"/>
<circle cx="123.6" cy="404.6" r="0.85" fill="#3c3c3c" fill-opacity="0.55"/>
<circle cx="135.4" cy="418.2" r="1.2" fill="none" stroke="#c4c4c4" stroke-width="0.5" stroke-opacity="0.5"/>
<circle cx="135.7" cy="418.6" r="0.85" fill="#3c3c3c" fill-opacity="0.55"/>
<circle cx="124.1" cy="419.1" r="1.2" fill="none" stroke="#c4c4c4" stroke-width="0.5" stroke-opacity="0.5"/>
<circle cx="124.4" cy="419.5" r="0.85" fill="#3c3c3c" fill-opacity="0.55"/>
<circle cx="126.6" cy="422.4" r="1.2" fill="none" stroke="#c4c4c4" stroke-width="0.5" stroke-opacity="0.5"/>
<circle cx="126.9" cy="422.8" r="0.85" fill="#3c3c3c" fill-opacity="0.55"/>
<circle cx="119.3" cy="403.1" r="1.2" fill="none" stroke="#c4c4c4" stroke-width="0.5" stroke-opacity="0.5"/>
<circle cx="119.6" cy="403.5" r="0.85" fill="#3c3c3c" fill-opacity="0.55"/>
<circle cx="139.8" cy="407.8" r="1.2" fill="none" stroke="#c4c4c4" stroke-width="0.5" stroke-opacity="0.5"/>
<circle cx="140.1" cy="408.2" r="0.85" fill="#3c3c3c" fill-opacity="0.55"/>
<circle cx="123.0" cy="423.3" r="1.2" fill="none" stroke="#c4c4c4" stroke-width="0.5" stroke-opacity="0.5"/>
<circle cx="123.3" cy="423.7" r="0.85" fill="#3c3c3c" fill-opacity="0.55"/>
<circle cx="132.7" cy="400.5" r="1.2" fill="none" stroke="#c4c4c4" stroke-width="0.5" stroke-opacity="0.5"/>
<circle cx="133.0" cy="400.9" r="0.85" fill="#3c3c3c" fill-opacity="0.55"/>
<circle cx="130.6" cy="418.4" r="1.2" fill="none" stroke="#c4c4c4" stroke-width="0.5" stroke-opacity="0.5"/>
<circle cx="130.9" cy="418.8" r="0.85" fill="#3c3c3c" fill-opacity="0.55"/>
<circle cx="120.5" cy="418.0" r="1.2" fill="none" stroke="#c4c4c4" stroke-width="0.5" stroke-opacity="0.5"/>
<circle cx="120.8" cy="418.4" r="0.85" fill="#3c3c3c" fill-opacity="0.55"/>
<circle cx="119.4" cy="407.0" r="1.2" fill="none" stroke="#c4c4c4" stroke-width="0.5" stroke-opacity="0.5"/>
<circle cx="119.7" cy="407.4" r="0.85" fill="#3c3c3c" fill-opacity="0.55"/>
<circle cx="118.4" cy="402.4" r="1.2" fill="none" stroke="#c4c4c4" stroke-width="0.5" stroke-opacity="0.5"/>
<circle cx="118.7" cy="402.8" r="0.85" fill="#3c3c3c" fill-opacity="0.55"/>
<circle cx="141.8" cy="409.3" r="1.2" fill="none" stroke="#c4c4c4" stroke-width="0.5" stroke-opacity="0.5"/>
<circle cx="142.1" cy="409.7" r="0.85" fill="#3c3c3c" fill-opacity="0.55"/>
<circle cx="142.1" cy="410.6" r="1.2" fill="none" stroke="#c4c4c4" stroke-width="0.5" stroke-opacity="0.5"/>
<circle cx="142.4" cy="411.0" r="0.85" fill="#3c3c3c" fill-opacity="0.55"/>
<circle cx="132.1" cy="425.7" r="1.2" fill="none" stroke="#c4c4c4" stroke-width="0.5" stroke-opacity="0.5"/>
<circle cx="132.4" cy="426.1" r="0.85" fill="#3c3c3c" fill-opacity="0.55"/>
<circle cx="134.2" cy="399.2" r="1.2" fill="none" stroke="#c4c4c4" stroke-width="0.5" stroke-opacity="0.5"/>
<circle cx="134.5" cy="399.6" r="0.85" fill="#3c3c3c" fill-opacity="0.55"/>
<circle cx="131.6" cy="417.4" r="1.2" fill="none" stroke="#c4c4c4" stroke-width="0.5" stroke-opacity="0.5"/>
<circle cx="131.9" cy="417.8" r="0.85" fill="#3c3c3c" fill-opacity="0.55"/>
<circle cx="120.9" cy="398.6" r="1.2" fill="none" stroke="#c4c4c4" stroke-width="0.5" stroke-opacity="0.5"/>
<circle cx="121.2" cy="399.0" r="0.85" fill="#3c3c3c" fill-opacity="0.55"/>
<circle cx="139.1" cy="413.2" r="1.2" fill="none" stroke="#c4c4c4" stroke-width="0.5" stroke-opacity="0.5"/>
<circle cx="139.4" cy="413.6" r="0.85" fill="#3c3c3c" fill-opacity="0.55"/>
<circle cx="121.3" cy="411.1" r="1.2" fill="none" stroke="#c4c4c4" stroke-width="0.5" stroke-opacity="0.5"/>
<circle cx="121.6" cy="411.5" r="0.85" fill="#3c3c3c" fill-opacity="0.55"/>
</g>
<text x="46.3" y="386.0" font-size="4.0" text-anchor="middle" fill="#fff" textLength="13" lengthAdjust="spacingAndGlyphs">100 μm</text>
<rect x="39.50" y="387.60" width="13.50" height="0.90" fill="#e0e0e0" />
<path d="M59.2,413.2 L53.8,415.6" stroke="#c8102e" stroke-width="1.2"/>
<path d="M50.9,416.9 L54.4,413.3 L55.6,416.7 Z" fill="#c8102e"/>
<path d="M113.8,410.8 L108.6,413.2" stroke="#fff" stroke-width="1.2"/>
<path d="M106.3,414.3 L109.5,411.1 L110.7,414.4 Z" fill="#fff"/>
<rect x="224.60" y="352.60" width="1.20" height="79.30" fill="#383838" />
<rect x="224.60" y="430.70" width="117.20" height="1.20" fill="#383838" />
<rect x="223.00" y="352.45" width="2.20" height="0.90" fill="#383838" />
<text x="220.89999999999998" y="354.9" font-size="5.2" text-anchor="end" fill="#1c1c1c" stroke="#1c1c1c" stroke-width="0.05">40</text>
<rect x="223.00" y="372.05" width="2.20" height="0.90" fill="#383838" />
<text x="220.89999999999998" y="374.5" font-size="5.2" text-anchor="end" fill="#1c1c1c" stroke="#1c1c1c" stroke-width="0.05">30</text>
<rect x="223.00" y="391.65" width="2.20" height="0.90" fill="#383838" />
<text x="220.89999999999998" y="394.1" font-size="5.2" text-anchor="end" fill="#1c1c1c" stroke="#1c1c1c" stroke-width="0.05">20</text>
<rect x="223.00" y="411.25" width="2.20" height="0.90" fill="#383838" />
<text x="220.89999999999998" y="413.7" font-size="5.2" text-anchor="end" fill="#1c1c1c" stroke="#1c1c1c" stroke-width="0.05">10</text>
<rect x="223.00" y="430.85" width="2.20" height="0.90" fill="#383838" />
<text x="220.89999999999998" y="433.3" font-size="5.2" text-anchor="end" fill="#1c1c1c" stroke="#1c1c1c" stroke-width="0.05">0</text>
<rect x="224.75" y="431.30" width="0.90" height="2.30" fill="#383838" />
<text x="225.2" y="439.4" font-size="5.1" text-anchor="middle" fill="#1c1c1c" stroke="#1c1c1c" stroke-width="0.05">0</text>
<rect x="242.30" y="431.30" width="0.90" height="2.30" fill="#383838" />
<text x="242.75" y="439.4" font-size="5.1" text-anchor="middle" fill="#1c1c1c" stroke="#1c1c1c" stroke-width="0.05">30</text>
<rect x="259.85" y="431.30" width="0.90" height="2.30" fill="#383838" />
<text x="260.3" y="439.4" font-size="5.1" text-anchor="middle" fill="#1c1c1c" stroke="#1c1c1c" stroke-width="0.05">60</text>
<rect x="277.40" y="431.30" width="0.90" height="2.30" fill="#383838" />
<text x="277.85" y="439.4" font-size="5.1" text-anchor="middle" fill="#1c1c1c" stroke="#1c1c1c" stroke-width="0.05">90</text>
<rect x="294.95" y="431.30" width="0.90" height="2.30" fill="#383838" />
<text x="295.4" y="439.4" font-size="5.1" text-anchor="middle" fill="#1c1c1c" stroke="#1c1c1c" stroke-width="0.05">120</text>
<rect x="312.50" y="431.30" width="0.90" height="2.30" fill="#383838" />
<text x="312.95" y="439.4" font-size="5.1" text-anchor="middle" fill="#1c1c1c" stroke="#1c1c1c" stroke-width="0.05">150</text>
<rect x="330.05" y="431.30" width="0.90" height="2.30" fill="#383838" />
<text x="330.5" y="439.4" font-size="5.1" text-anchor="middle" fill="#1c1c1c" stroke="#1c1c1c" stroke-width="0.05">180</text>
<text x="282.6" y="448.0" font-size="5.1" text-anchor="middle" fill="#1c1c1c" stroke="#1c1c1c" stroke-width="0.12" textLength="22.5" lengthAdjust="spacingAndGlyphs">Time (min)</text>
<text transform="translate(210.3,390.8) rotate(-90)" font-size="4.9" text-anchor="middle" fill="#1c1c1c" stroke="#1c1c1c" stroke-width="0.18" textLength="52.5" lengthAdjust="spacingAndGlyphs">Neutrophils with NETs (%)</text>
<polyline points="225.2,429.3 242.8,429.3 260.3,428.9 277.9,427.4 295.4,426.8 312.9,426.4 330.5,424.0" fill="none" stroke="#000" stroke-width="1.1"/>
<path d="M295.4,426.0 V427.6 M294.0,426.0 H296.8 M294.0,427.6 H296.8" stroke="#000" stroke-width="0.9" fill="none"/>
<path d="M312.9,425.4 V427.4 M311.6,425.4 H314.3 M311.6,427.4 H314.3" stroke="#000" stroke-width="0.9" fill="none"/>
<path d="M330.5,422.9 V425.2 M329.1,422.9 H331.9 M329.1,425.2 H331.9" stroke="#000" stroke-width="0.9" fill="none"/>
<polyline points="225.2,428.8 242.8,428.4 260.3,427.4 277.9,425.4 295.4,424.8 312.9,424.4 330.5,422.1" fill="none" stroke="#c8102e" stroke-width="1.1"/>
<path d="M295.4,424.0 V425.6 M294.0,424.0 H296.8 M294.0,425.6 H296.8" stroke="#c8102e" stroke-width="0.9" fill="none"/>
<path d="M312.9,423.5 V425.4 M311.6,423.5 H314.3 M311.6,425.4 H314.3" stroke="#c8102e" stroke-width="0.9" fill="none"/>
<path d="M330.5,420.7 V423.5 M329.1,420.7 H331.9 M329.1,423.5 H331.9" stroke="#c8102e" stroke-width="0.9" fill="none"/>
<polyline points="225.2,429.3 242.8,428.8 260.3,427.4 277.9,424.8 295.4,419.5 312.9,409.2 330.5,396.0" fill="none" stroke="#000" stroke-width="1.1"/>
<path d="M277.9,424.0 V425.6 M276.5,424.0 H279.2 M276.5,425.6 H279.2" stroke="#000" stroke-width="0.9" fill="none"/>
<path d="M295.4,418.4 V420.7 M294.0,418.4 H296.8 M294.0,420.7 H296.8" stroke="#000" stroke-width="0.9" fill="none"/>
<path d="M312.9,406.0 V412.3 M311.6,406.0 H314.3 M311.6,412.3 H314.3" stroke="#000" stroke-width="0.9" fill="none"/>
<path d="M330.5,391.3 V400.7 M329.1,391.3 H331.9 M329.1,400.7 H331.9" stroke="#000" stroke-width="0.9" fill="none"/>
<polyline points="225.2,428.4 242.8,427.4 260.3,426.8 277.9,424.4 295.4,415.6 312.9,401.9 330.5,376.4" fill="none" stroke="#c8102e" stroke-width="1.1"/>
<path d="M277.9,423.7 V425.2 M276.5,423.7 H279.2 M276.5,425.2 H279.2" stroke="#c8102e" stroke-width="0.9" fill="none"/>
<path d="M295.4,414.6 V416.6 M294.0,414.6 H296.8 M294.0,416.6 H296.8" stroke="#c8102e" stroke-width="0.9" fill="none"/>
<path d="M312.9,399.0 V404.8 M311.6,399.0 H314.3 M311.6,404.8 H314.3" stroke="#c8102e" stroke-width="0.9" fill="none"/>
<path d="M330.5,372.3 V380.5 M329.1,372.3 H331.9 M329.1,380.5 H331.9" stroke="#c8102e" stroke-width="0.9" fill="none"/>
<circle cx="225.2" cy="429.3" r="1.55" fill="#fff" stroke="#000" stroke-width="1.0"/>
<circle cx="242.8" cy="429.3" r="1.55" fill="#fff" stroke="#000" stroke-width="1.0"/>
<circle cx="260.3" cy="428.9" r="1.55" fill="#fff" stroke="#000" stroke-width="1.0"/>
<circle cx="277.9" cy="427.4" r="1.55" fill="#fff" stroke="#000" stroke-width="1.0"/>
<circle cx="295.4" cy="426.8" r="1.55" fill="#fff" stroke="#000" stroke-width="1.0"/>
<circle cx="312.9" cy="426.4" r="1.55" fill="#fff" stroke="#000" stroke-width="1.0"/>
<circle cx="330.5" cy="424.0" r="1.55" fill="#fff" stroke="#000" stroke-width="1.0"/>
<circle cx="225.2" cy="428.8" r="1.55" fill="#fff" stroke="#c8102e" stroke-width="1.0"/>
<circle cx="242.8" cy="428.4" r="1.55" fill="#fff" stroke="#c8102e" stroke-width="1.0"/>
<circle cx="260.3" cy="427.4" r="1.55" fill="#fff" stroke="#c8102e" stroke-width="1.0"/>
<circle cx="277.9" cy="425.4" r="1.55" fill="#fff" stroke="#c8102e" stroke-width="1.0"/>
<circle cx="295.4" cy="424.8" r="1.55" fill="#fff" stroke="#c8102e" stroke-width="1.0"/>
<circle cx="312.9" cy="424.4" r="1.55" fill="#fff" stroke="#c8102e" stroke-width="1.0"/>
<circle cx="330.5" cy="422.1" r="1.55" fill="#fff" stroke="#c8102e" stroke-width="1.0"/>
<circle cx="225.2" cy="429.3" r="2.0" fill="#000"/>
<circle cx="242.8" cy="428.8" r="2.0" fill="#000"/>
<circle cx="260.3" cy="427.4" r="2.0" fill="#000"/>
<circle cx="277.9" cy="424.8" r="2.0" fill="#000"/>
<circle cx="295.4" cy="419.5" r="2.0" fill="#000"/>
<circle cx="312.9" cy="409.2" r="2.0" fill="#000"/>
<circle cx="330.5" cy="396.0" r="2.0" fill="#000"/>
<circle cx="225.2" cy="428.4" r="2.0" fill="#c8102e"/>
<circle cx="242.8" cy="427.4" r="2.0" fill="#c8102e"/>
<circle cx="260.3" cy="426.8" r="2.0" fill="#c8102e"/>
<circle cx="277.9" cy="424.4" r="2.0" fill="#c8102e"/>
<circle cx="295.4" cy="415.6" r="2.0" fill="#c8102e"/>
<circle cx="312.9" cy="401.9" r="2.0" fill="#c8102e"/>
<circle cx="330.5" cy="376.4" r="2.0" fill="#c8102e"/>
<text x="328.6" y="361.6" font-size="5.1" text-anchor="middle" fill="#1c1c1c" stroke="#1c1c1c" stroke-width="0.05">&lt;0.0001</text>
<text x="312.8" y="384.8" font-size="5.1" text-anchor="middle" fill="#1c1c1c" stroke="#1c1c1c" stroke-width="0.05">0.0007</text>
<circle cx="236.2" cy="345.7" r="1.95" fill="#fff" stroke="#000" stroke-width="1.1"/>
<text x="240.8" y="347.45" font-size="4.7" text-anchor="start" fill="#1c1c1c" stroke="#1c1c1c" stroke-width="0.05">Ncdn<tspan font-size="3.2" dy="-1.8">fl/fl</tspan><tspan dy="1.8"> mock</tspan></text>
<circle cx="236.2" cy="353.2" r="1.95" fill="#fff" stroke="#c8102e" stroke-width="1.1"/>
<text x="240.8" y="354.95" font-size="4.7" text-anchor="start" fill="#1c1c1c" stroke="#1c1c1c" stroke-width="0.05">Ncdn<tspan font-size="3.2" dy="-1.8">Δmye</tspan><tspan dy="1.8"> mock</tspan></text>
<circle cx="236.2" cy="361.5" r="2.45" fill="#000"/>
<text x="240.8" y="363.25" font-size="4.7" text-anchor="start" fill="#1c1c1c" stroke="#1c1c1c" stroke-width="0.05">Ncdn<tspan font-size="3.2" dy="-1.8">fl/fl</tspan><tspan dy="1.8" font-style="italic"> S. aureus</tspan></text>
<circle cx="236.2" cy="369.1" r="2.45" fill="#c8102e"/>
<text x="240.8" y="370.85" font-size="4.7" text-anchor="start" fill="#1c1c1c" stroke="#1c1c1c" stroke-width="0.05">Ncdn<tspan font-size="3.2" dy="-1.8">Δmye</tspan><tspan dy="1.8" font-style="italic"> S. aureus</tspan></text>
</svg></body></html>
